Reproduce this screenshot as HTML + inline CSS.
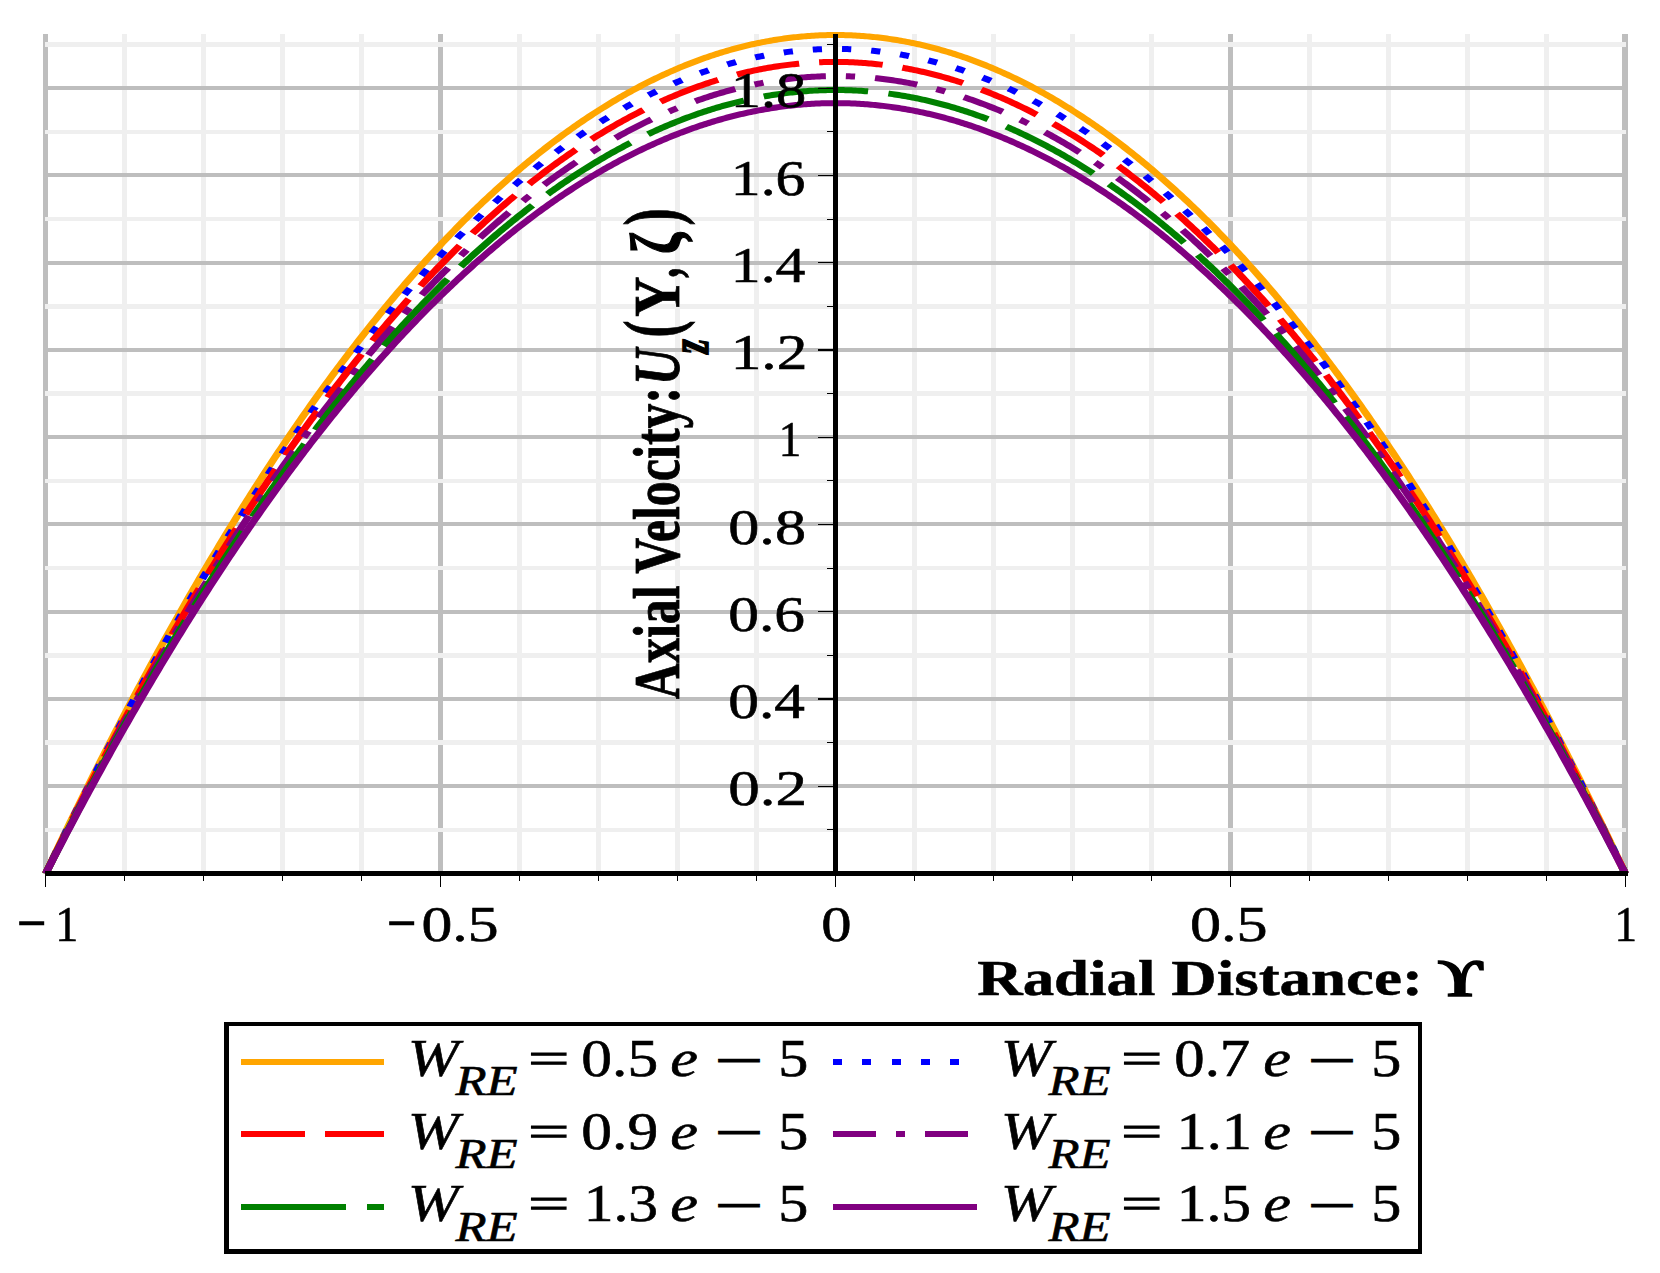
<!DOCTYPE html>
<html><head><meta charset="utf-8"><title>Axial Velocity vs Radial Distance</title>
<style>html,body{margin:0;padding:0;background:#fff;}svg{display:block;}text{font-family:"Liberation Serif","DejaVu Serif",serif;fill:#000;}</style></head><body>
<svg width="1660" height="1273" viewBox="0 0 1660 1273">
<rect width="1660" height="1273" fill="#fff"/>
<g shape-rendering="crispEdges">
<rect x="43.25" y="34" width="5" height="839.50" fill="#bebebe"/>
<rect x="438.12" y="34" width="5" height="839.50" fill="#bebebe"/>
<rect x="1227.88" y="34" width="5" height="839.50" fill="#bebebe"/>
<rect x="1622" y="34" width="6" height="839.50" fill="#bebebe"/>
<rect x="122.48" y="34" width="4.5" height="839.50" fill="#efefef"/>
<rect x="201.45" y="34" width="4.5" height="839.50" fill="#efefef"/>
<rect x="280.43" y="34" width="4.5" height="839.50" fill="#efefef"/>
<rect x="359.40" y="34" width="4.5" height="839.50" fill="#efefef"/>
<rect x="517.35" y="34" width="4.5" height="839.50" fill="#efefef"/>
<rect x="596.33" y="34" width="4.5" height="839.50" fill="#efefef"/>
<rect x="675.30" y="34" width="4.5" height="839.50" fill="#efefef"/>
<rect x="754.27" y="34" width="4.5" height="839.50" fill="#efefef"/>
<rect x="912.23" y="34" width="4.5" height="839.50" fill="#efefef"/>
<rect x="991.20" y="34" width="4.5" height="839.50" fill="#efefef"/>
<rect x="1070.17" y="34" width="4.5" height="839.50" fill="#efefef"/>
<rect x="1149.15" y="34" width="4.5" height="839.50" fill="#efefef"/>
<rect x="1307.10" y="34" width="4.5" height="839.50" fill="#efefef"/>
<rect x="1386.07" y="34" width="4.5" height="839.50" fill="#efefef"/>
<rect x="1465.05" y="34" width="4.5" height="839.50" fill="#efefef"/>
<rect x="1544.03" y="34" width="4.5" height="839.50" fill="#efefef"/>
<rect x="48.25" y="784.24" width="1574.50" height="4" fill="#bebebe"/>
<rect x="48.25" y="696.98" width="1574.50" height="4" fill="#bebebe"/>
<rect x="48.25" y="609.72" width="1574.50" height="4" fill="#bebebe"/>
<rect x="48.25" y="522.46" width="1574.50" height="4" fill="#bebebe"/>
<rect x="48.25" y="435.20" width="1574.50" height="4" fill="#bebebe"/>
<rect x="48.25" y="347.94" width="1574.50" height="4" fill="#bebebe"/>
<rect x="48.25" y="260.68" width="1574.50" height="4" fill="#bebebe"/>
<rect x="48.25" y="173.42" width="1574.50" height="4" fill="#bebebe"/>
<rect x="48.25" y="86.16" width="1574.50" height="4" fill="#bebebe"/>
<rect x="45.25" y="827.62" width="1580.50" height="4.5" fill="#efefef"/>
<rect x="45.25" y="740.36" width="1580.50" height="4.5" fill="#efefef"/>
<rect x="45.25" y="653.10" width="1580.50" height="4.5" fill="#efefef"/>
<rect x="45.25" y="565.84" width="1580.50" height="4.5" fill="#efefef"/>
<rect x="45.25" y="478.58" width="1580.50" height="4.5" fill="#efefef"/>
<rect x="45.25" y="391.32" width="1580.50" height="4.5" fill="#efefef"/>
<rect x="45.25" y="304.06" width="1580.50" height="4.5" fill="#efefef"/>
<rect x="45.25" y="216.80" width="1580.50" height="4.5" fill="#efefef"/>
<rect x="45.25" y="129.54" width="1580.50" height="4.5" fill="#efefef"/>
<rect x="45.25" y="42.28" width="1580.50" height="4.5" fill="#efefef"/>
</g>
<g transform="scale(1.25,1)" fill="none" stroke-width="6" stroke-linejoin="round" stroke-linecap="butt">
<path d="M36.60,873.50 L38.18,869.31 L39.76,865.14 L41.34,860.97 L42.92,856.81 L44.50,852.67 L46.08,848.53 L47.66,844.41 L49.24,840.30 L50.82,836.19 L52.39,832.10 L53.97,828.02 L55.55,823.95 L57.13,819.88 L58.71,815.83 L60.29,811.79 L61.87,807.76 L63.45,803.74 L65.03,799.73 L66.61,795.74 L68.19,791.75 L69.77,787.77 L71.35,783.80 L72.93,779.85 L74.51,775.90 L76.09,771.97 L77.67,768.04 L79.25,764.13 L80.83,760.22 L82.41,756.33 L83.98,752.44 L85.56,748.57 L87.14,744.71 L88.72,740.86 L90.30,737.02 L91.88,733.19 L93.46,729.37 L95.04,725.56 L96.62,721.76 L98.20,717.97 L99.78,714.19 L101.36,710.42 L102.94,706.66 L104.52,702.92 L106.10,699.18 L107.68,695.45 L109.26,691.74 L110.84,688.03 L112.42,684.34 L114.00,680.65 L115.58,676.98 L117.15,673.32 L118.73,669.67 L120.31,666.02 L121.89,662.39 L123.47,658.77 L125.05,655.16 L126.63,651.56 L128.21,647.97 L129.79,644.39 L131.37,640.82 L132.95,637.26 L134.53,633.72 L136.11,630.18 L137.69,626.65 L139.27,623.13 L140.85,619.63 L142.43,616.13 L144.01,612.65 L145.59,609.17 L147.17,605.71 L148.74,602.26 L150.32,598.81 L151.90,595.38 L153.48,591.96 L155.06,588.55 L156.64,585.15 L158.22,581.76 L159.80,578.38 L161.38,575.01 L162.96,571.65 L164.54,568.30 L166.12,564.96 L167.70,561.63 L169.28,558.31 L170.86,555.01 L172.44,551.71 L174.02,548.43 L175.60,545.15 L177.18,541.89 L178.76,538.63 L180.33,535.39 L181.91,532.15 L183.49,528.93 L185.07,525.72 L186.65,522.52 L188.23,519.33 L189.81,516.14 L191.39,512.97 L192.97,509.81 L194.55,506.66 L196.13,503.53 L197.71,500.40 L199.29,497.28 L200.87,494.17 L202.45,491.07 L204.03,487.99 L205.61,484.91 L207.19,481.85 L208.77,478.79 L210.34,475.75 L211.92,472.71 L213.50,469.69 L215.08,466.67 L216.66,463.67 L218.24,460.68 L219.82,457.70 L221.40,454.73 L222.98,451.76 L224.56,448.81 L226.14,445.87 L227.72,442.95 L229.30,440.03 L230.88,437.12 L232.46,434.22 L234.04,431.33 L235.62,428.46 L237.20,425.59 L238.78,422.73 L240.36,419.89 L241.93,417.05 L243.51,414.23 L245.09,411.41 L246.67,408.61 L248.25,405.82 L249.83,403.03 L251.41,400.26 L252.99,397.50 L254.57,394.75 L256.15,392.01 L257.73,389.28 L259.31,386.56 L260.89,383.85 L262.47,381.15 L264.05,378.46 L265.63,375.78 L267.21,373.12 L268.79,370.46 L270.37,367.81 L271.95,365.18 L273.52,362.55 L275.10,359.94 L276.68,357.33 L278.26,354.74 L279.84,352.15 L281.42,349.58 L283.00,347.02 L284.58,344.47 L286.16,341.92 L287.74,339.39 L289.32,336.87 L290.90,334.36 L292.48,331.86 L294.06,329.37 L295.64,326.89 L297.22,324.43 L298.80,321.97 L300.38,319.52 L301.96,317.08 L303.54,314.66 L305.12,312.24 L306.69,309.84 L308.27,307.44 L309.85,305.06 L311.43,302.68 L313.01,300.32 L314.59,297.97 L316.17,295.62 L317.75,293.29 L319.33,290.97 L320.91,288.66 L322.49,286.36 L324.07,284.07 L325.65,281.79 L327.23,279.52 L328.81,277.26 L330.39,275.01 L331.97,272.78 L333.55,270.55 L335.13,268.33 L336.70,266.13 L338.28,263.93 L339.86,261.74 L341.44,259.57 L343.02,257.40 L344.60,255.25 L346.18,253.11 L347.76,250.97 L349.34,248.85 L350.92,246.74 L352.50,244.64 L354.08,242.55 L355.66,240.47 L357.24,238.40 L358.82,236.34 L360.40,234.29 L361.98,232.25 L363.56,230.22 L365.14,228.20 L366.72,226.20 L368.30,224.20 L369.87,222.21 L371.45,220.24 L373.03,218.27 L374.61,216.32 L376.19,214.38 L377.77,212.44 L379.35,210.52 L380.93,208.61 L382.51,206.70 L384.09,204.81 L385.67,202.93 L387.25,201.06 L388.83,199.20 L390.41,197.35 L391.99,195.51 L393.57,193.68 L395.15,191.86 L396.73,190.05 L398.31,188.26 L399.88,186.47 L401.46,184.69 L403.04,182.93 L404.62,181.17 L406.20,179.43 L407.78,177.69 L409.36,175.97 L410.94,174.25 L412.52,172.55 L414.10,170.86 L415.68,169.18 L417.26,167.50 L418.84,165.84 L420.42,164.19 L422.00,162.55 L423.58,160.92 L425.16,159.30 L426.74,157.69 L428.32,156.10 L429.90,154.51 L431.48,152.93 L433.05,151.36 L434.63,149.81 L436.21,148.26 L437.79,146.73 L439.37,145.20 L440.95,143.69 L442.53,142.18 L444.11,140.69 L445.69,139.21 L447.27,137.73 L448.85,136.27 L450.43,134.82 L452.01,133.38 L453.59,131.95 L455.17,130.53 L456.75,129.12 L458.33,127.72 L459.91,126.33 L461.49,124.95 L463.06,123.58 L464.64,122.23 L466.22,120.88 L467.80,119.54 L469.38,118.22 L470.96,116.90 L472.54,115.60 L474.12,114.30 L475.70,113.02 L477.28,111.74 L478.86,110.48 L480.44,109.23 L482.02,107.99 L483.60,106.76 L485.18,105.53 L486.76,104.32 L488.34,103.12 L489.92,101.93 L491.50,100.76 L493.08,99.59 L494.66,98.43 L496.23,97.28 L497.81,96.14 L499.39,95.02 L500.97,93.90 L502.55,92.80 L504.13,91.70 L505.71,90.62 L507.29,89.54 L508.87,88.48 L510.45,87.42 L512.03,86.38 L513.61,85.35 L515.19,84.33 L516.77,83.32 L518.35,82.31 L519.93,81.32 L521.51,80.34 L523.09,79.37 L524.67,78.42 L526.25,77.47 L527.82,76.53 L529.40,75.60 L530.98,74.68 L532.56,73.78 L534.14,72.88 L535.72,72.00 L537.30,71.12 L538.88,70.26 L540.46,69.40 L542.04,68.56 L543.62,67.72 L545.20,66.90 L546.78,66.09 L548.36,65.29 L549.94,64.50 L551.52,63.72 L553.10,62.95 L554.68,62.19 L556.26,61.44 L557.83,60.70 L559.41,59.97 L560.99,59.25 L562.57,58.54 L564.15,57.85 L565.73,57.16 L567.31,56.48 L568.89,55.82 L570.47,55.16 L572.05,54.52 L573.63,53.88 L575.21,53.26 L576.79,52.65 L578.37,52.05 L579.95,51.45 L581.53,50.87 L583.11,50.30 L584.69,49.74 L586.27,49.19 L587.85,48.65 L589.42,48.12 L591.00,47.60 L592.58,47.09 L594.16,46.59 L595.74,46.11 L597.32,45.63 L598.90,45.16 L600.48,44.71 L602.06,44.26 L603.64,43.83 L605.22,43.40 L606.80,42.99 L608.38,42.59 L609.96,42.19 L611.54,41.81 L613.12,41.44 L614.70,41.08 L616.28,40.73 L617.86,40.38 L619.44,40.05 L621.02,39.74 L622.59,39.43 L624.17,39.13 L625.75,38.84 L627.33,38.56 L628.91,38.29 L630.49,38.04 L632.07,37.79 L633.65,37.56 L635.23,37.33 L636.81,37.11 L638.39,36.91 L639.97,36.72 L641.55,36.53 L643.13,36.36 L644.71,36.20 L646.29,36.05 L647.87,35.90 L649.45,35.77 L651.03,35.65 L652.61,35.54 L654.18,35.44 L655.76,35.35 L657.34,35.28 L658.92,35.21 L660.50,35.15 L662.08,35.10 L663.66,35.07 L665.24,35.04 L666.82,35.02 L668.40,35.02 L669.98,35.02 L671.56,35.04 L673.14,35.07 L674.72,35.10 L676.30,35.15 L677.88,35.21 L679.46,35.28 L681.04,35.35 L682.62,35.44 L684.19,35.54 L685.77,35.65 L687.35,35.77 L688.93,35.90 L690.51,36.05 L692.09,36.20 L693.67,36.36 L695.25,36.53 L696.83,36.72 L698.41,36.91 L699.99,37.11 L701.57,37.33 L703.15,37.56 L704.73,37.79 L706.31,38.04 L707.89,38.29 L709.47,38.56 L711.05,38.84 L712.63,39.13 L714.21,39.43 L715.78,39.74 L717.36,40.05 L718.94,40.38 L720.52,40.73 L722.10,41.08 L723.68,41.44 L725.26,41.81 L726.84,42.19 L728.42,42.59 L730.00,42.99 L731.58,43.40 L733.16,43.83 L734.74,44.26 L736.32,44.71 L737.90,45.16 L739.48,45.63 L741.06,46.11 L742.64,46.59 L744.22,47.09 L745.80,47.60 L747.38,48.12 L748.95,48.65 L750.53,49.19 L752.11,49.74 L753.69,50.30 L755.27,50.87 L756.85,51.45 L758.43,52.05 L760.01,52.65 L761.59,53.26 L763.17,53.88 L764.75,54.52 L766.33,55.16 L767.91,55.82 L769.49,56.48 L771.07,57.16 L772.65,57.85 L774.23,58.54 L775.81,59.25 L777.39,59.97 L778.97,60.70 L780.54,61.44 L782.12,62.19 L783.70,62.95 L785.28,63.72 L786.86,64.50 L788.44,65.29 L790.02,66.09 L791.60,66.90 L793.18,67.72 L794.76,68.56 L796.34,69.40 L797.92,70.26 L799.50,71.12 L801.08,72.00 L802.66,72.88 L804.24,73.78 L805.82,74.68 L807.40,75.60 L808.98,76.53 L810.56,77.47 L812.13,78.42 L813.71,79.37 L815.29,80.34 L816.87,81.32 L818.45,82.31 L820.03,83.32 L821.61,84.33 L823.19,85.35 L824.77,86.38 L826.35,87.42 L827.93,88.48 L829.51,89.54 L831.09,90.62 L832.67,91.70 L834.25,92.80 L835.83,93.90 L837.41,95.02 L838.99,96.14 L840.57,97.28 L842.14,98.43 L843.72,99.59 L845.30,100.76 L846.88,101.93 L848.46,103.12 L850.04,104.32 L851.62,105.53 L853.20,106.76 L854.78,107.99 L856.36,109.23 L857.94,110.48 L859.52,111.74 L861.10,113.02 L862.68,114.30 L864.26,115.60 L865.84,116.90 L867.42,118.22 L869.00,119.54 L870.58,120.88 L872.16,122.23 L873.74,123.58 L875.31,124.95 L876.89,126.33 L878.47,127.72 L880.05,129.12 L881.63,130.53 L883.21,131.95 L884.79,133.38 L886.37,134.82 L887.95,136.27 L889.53,137.73 L891.11,139.21 L892.69,140.69 L894.27,142.18 L895.85,143.69 L897.43,145.20 L899.01,146.73 L900.59,148.26 L902.17,149.81 L903.75,151.36 L905.33,152.93 L906.90,154.51 L908.48,156.10 L910.06,157.69 L911.64,159.30 L913.22,160.92 L914.80,162.55 L916.38,164.19 L917.96,165.84 L919.54,167.50 L921.12,169.18 L922.70,170.86 L924.28,172.55 L925.86,174.25 L927.44,175.97 L929.02,177.69 L930.60,179.43 L932.18,181.17 L933.76,182.93 L935.34,184.69 L936.91,186.47 L938.49,188.26 L940.07,190.05 L941.65,191.86 L943.23,193.68 L944.81,195.51 L946.39,197.35 L947.97,199.20 L949.55,201.06 L951.13,202.93 L952.71,204.81 L954.29,206.70 L955.87,208.61 L957.45,210.52 L959.03,212.44 L960.61,214.38 L962.19,216.32 L963.77,218.27 L965.35,220.24 L966.93,222.21 L968.51,224.20 L970.08,226.20 L971.66,228.20 L973.24,230.22 L974.82,232.25 L976.40,234.29 L977.98,236.34 L979.56,238.40 L981.14,240.47 L982.72,242.55 L984.30,244.64 L985.88,246.74 L987.46,248.85 L989.04,250.97 L990.62,253.11 L992.20,255.25 L993.78,257.40 L995.36,259.57 L996.94,261.74 L998.52,263.93 L1000.09,266.13 L1001.67,268.33 L1003.25,270.55 L1004.83,272.78 L1006.41,275.01 L1007.99,277.26 L1009.57,279.52 L1011.15,281.79 L1012.73,284.07 L1014.31,286.36 L1015.89,288.66 L1017.47,290.97 L1019.05,293.29 L1020.63,295.62 L1022.21,297.97 L1023.79,300.32 L1025.37,302.68 L1026.95,305.06 L1028.53,307.44 L1030.11,309.84 L1031.68,312.24 L1033.26,314.66 L1034.84,317.08 L1036.42,319.52 L1038.00,321.97 L1039.58,324.43 L1041.16,326.89 L1042.74,329.37 L1044.32,331.86 L1045.90,334.36 L1047.48,336.87 L1049.06,339.39 L1050.64,341.92 L1052.22,344.47 L1053.80,347.02 L1055.38,349.58 L1056.96,352.15 L1058.54,354.74 L1060.12,357.33 L1061.70,359.94 L1063.28,362.55 L1064.85,365.18 L1066.43,367.81 L1068.01,370.46 L1069.59,373.12 L1071.17,375.78 L1072.75,378.46 L1074.33,381.15 L1075.91,383.85 L1077.49,386.56 L1079.07,389.28 L1080.65,392.01 L1082.23,394.75 L1083.81,397.50 L1085.39,400.26 L1086.97,403.03 L1088.55,405.82 L1090.13,408.61 L1091.71,411.41 L1093.29,414.23 L1094.87,417.05 L1096.44,419.89 L1098.02,422.73 L1099.60,425.59 L1101.18,428.46 L1102.76,431.33 L1104.34,434.22 L1105.92,437.12 L1107.50,440.03 L1109.08,442.95 L1110.66,445.87 L1112.24,448.81 L1113.82,451.76 L1115.40,454.73 L1116.98,457.70 L1118.56,460.68 L1120.14,463.67 L1121.72,466.67 L1123.30,469.69 L1124.88,472.71 L1126.45,475.75 L1128.03,478.79 L1129.61,481.85 L1131.19,484.91 L1132.77,487.99 L1134.35,491.07 L1135.93,494.17 L1137.51,497.28 L1139.09,500.40 L1140.67,503.53 L1142.25,506.66 L1143.83,509.81 L1145.41,512.97 L1146.99,516.14 L1148.57,519.33 L1150.15,522.52 L1151.73,525.72 L1153.31,528.93 L1154.89,532.15 L1156.47,535.39 L1158.05,538.63 L1159.62,541.89 L1161.20,545.15 L1162.78,548.43 L1164.36,551.71 L1165.94,555.01 L1167.52,558.31 L1169.10,561.63 L1170.68,564.96 L1172.26,568.30 L1173.84,571.65 L1175.42,575.01 L1177.00,578.38 L1178.58,581.76 L1180.16,585.15 L1181.74,588.55 L1183.32,591.96 L1184.90,595.38 L1186.48,598.81 L1188.06,602.26 L1189.63,605.71 L1191.21,609.17 L1192.79,612.65 L1194.37,616.13 L1195.95,619.63 L1197.53,623.13 L1199.11,626.65 L1200.69,630.18 L1202.27,633.72 L1203.85,637.26 L1205.43,640.82 L1207.01,644.39 L1208.59,647.97 L1210.17,651.56 L1211.75,655.16 L1213.33,658.77 L1214.91,662.39 L1216.49,666.02 L1218.07,669.67 L1219.65,673.32 L1221.22,676.98 L1222.80,680.65 L1224.38,684.34 L1225.96,688.03 L1227.54,691.74 L1229.12,695.45 L1230.70,699.18 L1232.28,702.92 L1233.86,706.66 L1235.44,710.42 L1237.02,714.19 L1238.60,717.97 L1240.18,721.76 L1241.76,725.56 L1243.34,729.37 L1244.92,733.19 L1246.50,737.02 L1248.08,740.86 L1249.66,744.71 L1251.24,748.57 L1252.82,752.44 L1254.39,756.33 L1255.97,760.22 L1257.55,764.13 L1259.13,768.04 L1260.71,771.97 L1262.29,775.90 L1263.87,779.85 L1265.45,783.80 L1267.03,787.77 L1268.61,791.75 L1270.19,795.74 L1271.77,799.73 L1273.35,803.74 L1274.93,807.76 L1276.51,811.79 L1278.09,815.83 L1279.67,819.88 L1281.25,823.95 L1282.83,828.02 L1284.40,832.10 L1285.98,836.19 L1287.56,840.30 L1289.14,844.41 L1290.72,848.53 L1292.30,852.67 L1293.88,856.81 L1295.46,860.97 L1297.04,865.14 L1298.62,869.31 L1300.20,873.50" stroke="#FFA500"/>
<path d="M36.60,873.50 L38.18,869.38 L39.76,865.27 L41.34,861.18 L42.92,857.09 L44.50,853.01 L46.08,848.95 L47.66,844.89 L49.24,840.85 L50.82,836.81 L52.39,832.79 L53.97,828.77 L55.55,824.77 L57.13,820.77 L58.71,816.79 L60.29,812.82 L61.87,808.85 L63.45,804.90 L65.03,800.96 L66.61,797.03 L68.19,793.11 L69.77,789.19 L71.35,785.29 L72.93,781.40 L74.51,777.52 L76.09,773.65 L77.67,769.79 L79.25,765.94 L80.83,762.10 L82.41,758.27 L83.98,754.45 L85.56,750.65 L87.14,746.85 L88.72,743.06 L90.30,739.28 L91.88,735.51 L93.46,731.76 L95.04,728.01 L96.62,724.27 L98.20,720.55 L99.78,716.83 L101.36,713.13 L102.94,709.43 L104.52,705.75 L106.10,702.07 L107.68,698.41 L109.26,694.76 L110.84,691.11 L112.42,687.48 L114.00,683.86 L115.58,680.24 L117.15,676.64 L118.73,673.05 L120.31,669.47 L121.89,665.90 L123.47,662.33 L125.05,658.78 L126.63,655.24 L128.21,651.71 L129.79,648.19 L131.37,644.68 L132.95,641.18 L134.53,637.70 L136.11,634.22 L137.69,630.75 L139.27,627.29 L140.85,623.84 L142.43,620.41 L144.01,616.98 L145.59,613.56 L147.17,610.16 L148.74,606.76 L150.32,603.37 L151.90,600.00 L153.48,596.63 L155.06,593.28 L156.64,589.93 L158.22,586.60 L159.80,583.27 L161.38,579.96 L162.96,576.66 L164.54,573.36 L166.12,570.08 L167.70,566.81 L169.28,563.55 L170.86,560.29 L172.44,557.05 L174.02,553.82 L175.60,550.60 L177.18,547.39 L178.76,544.19 L180.33,541.00 L181.91,537.82 L183.49,534.65 L185.07,531.49 L186.65,528.34 L188.23,525.20 L189.81,522.08 L191.39,518.96 L192.97,515.85 L194.55,512.75 L196.13,509.67 L197.71,506.59 L199.29,503.52 L200.87,500.47 L202.45,497.42 L204.03,494.39 L205.61,491.36 L207.19,488.35 L208.77,485.34 L210.34,482.35 L211.92,479.36 L213.50,476.39 L215.08,473.43 L216.66,470.47 L218.24,467.53 L219.82,464.60 L221.40,461.68 L222.98,458.77 L224.56,455.86 L226.14,452.97 L227.72,450.09 L229.30,447.22 L230.88,444.36 L232.46,441.51 L234.04,438.67 L235.62,435.84 L237.20,433.02 L238.78,430.21 L240.36,427.42 L241.93,424.63 L243.51,421.85 L245.09,419.08 L246.67,416.33 L248.25,413.58 L249.83,410.84 L251.41,408.12 L252.99,405.40 L254.57,402.69 L256.15,400.00 L257.73,397.31 L259.31,394.64 L260.89,391.98 L262.47,389.32 L264.05,386.68 L265.63,384.04 L267.21,381.42 L268.79,378.81 L270.37,376.21 L271.95,373.61 L273.52,371.03 L275.10,368.46 L276.68,365.90 L278.26,363.35 L279.84,360.81 L281.42,358.28 L283.00,355.76 L284.58,353.25 L286.16,350.75 L287.74,348.26 L289.32,345.78 L290.90,343.31 L292.48,340.85 L294.06,338.40 L295.64,335.97 L297.22,333.54 L298.80,331.12 L300.38,328.72 L301.96,326.32 L303.54,323.93 L305.12,321.56 L306.69,319.19 L308.27,316.84 L309.85,314.49 L311.43,312.16 L313.01,309.83 L314.59,307.52 L316.17,305.22 L317.75,302.92 L319.33,300.64 L320.91,298.37 L322.49,296.10 L324.07,293.85 L325.65,291.61 L327.23,289.38 L328.81,287.16 L330.39,284.95 L331.97,282.75 L333.55,280.56 L335.13,278.38 L336.70,276.21 L338.28,274.05 L339.86,271.90 L341.44,269.76 L343.02,267.63 L344.60,265.51 L346.18,263.41 L347.76,261.31 L349.34,259.22 L350.92,257.14 L352.50,255.08 L354.08,253.02 L355.66,250.98 L357.24,248.94 L358.82,246.91 L360.40,244.90 L361.98,242.89 L363.56,240.90 L365.14,238.92 L366.72,236.94 L368.30,234.98 L369.87,233.03 L371.45,231.08 L373.03,229.15 L374.61,227.23 L376.19,225.32 L377.77,223.41 L379.35,221.52 L380.93,219.64 L382.51,217.77 L384.09,215.91 L385.67,214.06 L387.25,212.22 L388.83,210.39 L390.41,208.57 L391.99,206.76 L393.57,204.96 L395.15,203.18 L396.73,201.40 L398.31,199.63 L399.88,197.87 L401.46,196.13 L403.04,194.39 L404.62,192.66 L406.20,190.95 L407.78,189.24 L409.36,187.55 L410.94,185.86 L412.52,184.19 L414.10,182.52 L415.68,180.87 L417.26,179.22 L418.84,177.59 L420.42,175.97 L422.00,174.35 L423.58,172.75 L425.16,171.16 L426.74,169.58 L428.32,168.00 L429.90,166.44 L431.48,164.89 L433.05,163.35 L434.63,161.82 L436.21,160.30 L437.79,158.79 L439.37,157.29 L440.95,155.80 L442.53,154.32 L444.11,152.85 L445.69,151.39 L447.27,149.95 L448.85,148.51 L450.43,147.08 L452.01,145.66 L453.59,144.26 L455.17,142.86 L456.75,141.47 L458.33,140.10 L459.91,138.73 L461.49,137.38 L463.06,136.03 L464.64,134.70 L466.22,133.37 L467.80,132.06 L469.38,130.75 L470.96,129.46 L472.54,128.18 L474.12,126.90 L475.70,125.64 L477.28,124.39 L478.86,123.15 L480.44,121.92 L482.02,120.69 L483.60,119.48 L485.18,118.28 L486.76,117.09 L488.34,115.91 L489.92,114.74 L491.50,113.58 L493.08,112.43 L494.66,111.29 L496.23,110.17 L497.81,109.05 L499.39,107.94 L500.97,106.84 L502.55,105.75 L504.13,104.68 L505.71,103.61 L507.29,102.55 L508.87,101.51 L510.45,100.47 L512.03,99.45 L513.61,98.43 L515.19,97.43 L516.77,96.43 L518.35,95.45 L519.93,94.47 L521.51,93.51 L523.09,92.56 L524.67,91.61 L526.25,90.68 L527.82,89.76 L529.40,88.85 L530.98,87.94 L532.56,87.05 L534.14,86.17 L535.72,85.30 L537.30,84.44 L538.88,83.59 L540.46,82.75 L542.04,81.92 L543.62,81.10 L545.20,80.29 L546.78,79.49 L548.36,78.70 L549.94,77.93 L551.52,77.16 L553.10,76.40 L554.68,75.65 L556.26,74.92 L557.83,74.19 L559.41,73.47 L560.99,72.77 L562.57,72.07 L564.15,71.39 L565.73,70.71 L567.31,70.05 L568.89,69.39 L570.47,68.75 L572.05,68.11 L573.63,67.49 L575.21,66.88 L576.79,66.27 L578.37,65.68 L579.95,65.10 L581.53,64.53 L583.11,63.96 L584.69,63.41 L586.27,62.87 L587.85,62.34 L589.42,61.82 L591.00,61.31 L592.58,60.81 L594.16,60.32 L595.74,59.84 L597.32,59.37 L598.90,58.91 L600.48,58.47 L602.06,58.03 L603.64,57.60 L605.22,57.18 L606.80,56.78 L608.38,56.38 L609.96,55.99 L611.54,55.62 L613.12,55.25 L614.70,54.89 L616.28,54.55 L617.86,54.21 L619.44,53.89 L621.02,53.57 L622.59,53.27 L624.17,52.98 L625.75,52.69 L627.33,52.42 L628.91,52.16 L630.49,51.91 L632.07,51.66 L633.65,51.43 L635.23,51.21 L636.81,51.00 L638.39,50.80 L639.97,50.61 L641.55,50.43 L643.13,50.26 L644.71,50.10 L646.29,49.95 L647.87,49.81 L649.45,49.68 L651.03,49.56 L652.61,49.45 L654.18,49.35 L655.76,49.27 L657.34,49.19 L658.92,49.12 L660.50,49.07 L662.08,49.02 L663.66,48.98 L665.24,48.96 L666.82,48.94 L668.40,48.94 L669.98,48.94 L671.56,48.96 L673.14,48.98 L674.72,49.02 L676.30,49.07 L677.88,49.12 L679.46,49.19 L681.04,49.27 L682.62,49.35 L684.19,49.45 L685.77,49.56 L687.35,49.68 L688.93,49.81 L690.51,49.95 L692.09,50.10 L693.67,50.26 L695.25,50.43 L696.83,50.61 L698.41,50.80 L699.99,51.00 L701.57,51.21 L703.15,51.43 L704.73,51.66 L706.31,51.91 L707.89,52.16 L709.47,52.42 L711.05,52.69 L712.63,52.98 L714.21,53.27 L715.78,53.57 L717.36,53.89 L718.94,54.21 L720.52,54.55 L722.10,54.89 L723.68,55.25 L725.26,55.62 L726.84,55.99 L728.42,56.38 L730.00,56.78 L731.58,57.18 L733.16,57.60 L734.74,58.03 L736.32,58.47 L737.90,58.91 L739.48,59.37 L741.06,59.84 L742.64,60.32 L744.22,60.81 L745.80,61.31 L747.38,61.82 L748.95,62.34 L750.53,62.87 L752.11,63.41 L753.69,63.96 L755.27,64.53 L756.85,65.10 L758.43,65.68 L760.01,66.27 L761.59,66.88 L763.17,67.49 L764.75,68.11 L766.33,68.75 L767.91,69.39 L769.49,70.05 L771.07,70.71 L772.65,71.39 L774.23,72.07 L775.81,72.77 L777.39,73.47 L778.97,74.19 L780.54,74.92 L782.12,75.65 L783.70,76.40 L785.28,77.16 L786.86,77.93 L788.44,78.70 L790.02,79.49 L791.60,80.29 L793.18,81.10 L794.76,81.92 L796.34,82.75 L797.92,83.59 L799.50,84.44 L801.08,85.30 L802.66,86.17 L804.24,87.05 L805.82,87.94 L807.40,88.85 L808.98,89.76 L810.56,90.68 L812.13,91.61 L813.71,92.56 L815.29,93.51 L816.87,94.47 L818.45,95.45 L820.03,96.43 L821.61,97.43 L823.19,98.43 L824.77,99.45 L826.35,100.47 L827.93,101.51 L829.51,102.55 L831.09,103.61 L832.67,104.68 L834.25,105.75 L835.83,106.84 L837.41,107.94 L838.99,109.05 L840.57,110.17 L842.14,111.29 L843.72,112.43 L845.30,113.58 L846.88,114.74 L848.46,115.91 L850.04,117.09 L851.62,118.28 L853.20,119.48 L854.78,120.69 L856.36,121.92 L857.94,123.15 L859.52,124.39 L861.10,125.64 L862.68,126.90 L864.26,128.18 L865.84,129.46 L867.42,130.75 L869.00,132.06 L870.58,133.37 L872.16,134.70 L873.74,136.03 L875.31,137.38 L876.89,138.73 L878.47,140.10 L880.05,141.47 L881.63,142.86 L883.21,144.26 L884.79,145.66 L886.37,147.08 L887.95,148.51 L889.53,149.95 L891.11,151.39 L892.69,152.85 L894.27,154.32 L895.85,155.80 L897.43,157.29 L899.01,158.79 L900.59,160.30 L902.17,161.82 L903.75,163.35 L905.33,164.89 L906.90,166.44 L908.48,168.00 L910.06,169.58 L911.64,171.16 L913.22,172.75 L914.80,174.35 L916.38,175.97 L917.96,177.59 L919.54,179.22 L921.12,180.87 L922.70,182.52 L924.28,184.19 L925.86,185.86 L927.44,187.55 L929.02,189.24 L930.60,190.95 L932.18,192.66 L933.76,194.39 L935.34,196.13 L936.91,197.87 L938.49,199.63 L940.07,201.40 L941.65,203.18 L943.23,204.96 L944.81,206.76 L946.39,208.57 L947.97,210.39 L949.55,212.22 L951.13,214.06 L952.71,215.91 L954.29,217.77 L955.87,219.64 L957.45,221.52 L959.03,223.41 L960.61,225.32 L962.19,227.23 L963.77,229.15 L965.35,231.08 L966.93,233.03 L968.51,234.98 L970.08,236.94 L971.66,238.92 L973.24,240.90 L974.82,242.89 L976.40,244.90 L977.98,246.91 L979.56,248.94 L981.14,250.98 L982.72,253.02 L984.30,255.08 L985.88,257.14 L987.46,259.22 L989.04,261.31 L990.62,263.41 L992.20,265.51 L993.78,267.63 L995.36,269.76 L996.94,271.90 L998.52,274.05 L1000.09,276.21 L1001.67,278.38 L1003.25,280.56 L1004.83,282.75 L1006.41,284.95 L1007.99,287.16 L1009.57,289.38 L1011.15,291.61 L1012.73,293.85 L1014.31,296.10 L1015.89,298.37 L1017.47,300.64 L1019.05,302.92 L1020.63,305.22 L1022.21,307.52 L1023.79,309.83 L1025.37,312.16 L1026.95,314.49 L1028.53,316.84 L1030.11,319.19 L1031.68,321.56 L1033.26,323.93 L1034.84,326.32 L1036.42,328.72 L1038.00,331.12 L1039.58,333.54 L1041.16,335.97 L1042.74,338.40 L1044.32,340.85 L1045.90,343.31 L1047.48,345.78 L1049.06,348.26 L1050.64,350.75 L1052.22,353.25 L1053.80,355.76 L1055.38,358.28 L1056.96,360.81 L1058.54,363.35 L1060.12,365.90 L1061.70,368.46 L1063.28,371.03 L1064.85,373.61 L1066.43,376.21 L1068.01,378.81 L1069.59,381.42 L1071.17,384.04 L1072.75,386.68 L1074.33,389.32 L1075.91,391.98 L1077.49,394.64 L1079.07,397.31 L1080.65,400.00 L1082.23,402.69 L1083.81,405.40 L1085.39,408.12 L1086.97,410.84 L1088.55,413.58 L1090.13,416.33 L1091.71,419.08 L1093.29,421.85 L1094.87,424.63 L1096.44,427.42 L1098.02,430.21 L1099.60,433.02 L1101.18,435.84 L1102.76,438.67 L1104.34,441.51 L1105.92,444.36 L1107.50,447.22 L1109.08,450.09 L1110.66,452.97 L1112.24,455.86 L1113.82,458.77 L1115.40,461.68 L1116.98,464.60 L1118.56,467.53 L1120.14,470.47 L1121.72,473.43 L1123.30,476.39 L1124.88,479.36 L1126.45,482.35 L1128.03,485.34 L1129.61,488.35 L1131.19,491.36 L1132.77,494.39 L1134.35,497.42 L1135.93,500.47 L1137.51,503.52 L1139.09,506.59 L1140.67,509.67 L1142.25,512.75 L1143.83,515.85 L1145.41,518.96 L1146.99,522.08 L1148.57,525.20 L1150.15,528.34 L1151.73,531.49 L1153.31,534.65 L1154.89,537.82 L1156.47,541.00 L1158.05,544.19 L1159.62,547.39 L1161.20,550.60 L1162.78,553.82 L1164.36,557.05 L1165.94,560.29 L1167.52,563.55 L1169.10,566.81 L1170.68,570.08 L1172.26,573.36 L1173.84,576.66 L1175.42,579.96 L1177.00,583.27 L1178.58,586.60 L1180.16,589.93 L1181.74,593.28 L1183.32,596.63 L1184.90,600.00 L1186.48,603.37 L1188.06,606.76 L1189.63,610.16 L1191.21,613.56 L1192.79,616.98 L1194.37,620.41 L1195.95,623.84 L1197.53,627.29 L1199.11,630.75 L1200.69,634.22 L1202.27,637.70 L1203.85,641.18 L1205.43,644.68 L1207.01,648.19 L1208.59,651.71 L1210.17,655.24 L1211.75,658.78 L1213.33,662.33 L1214.91,665.90 L1216.49,669.47 L1218.07,673.05 L1219.65,676.64 L1221.22,680.24 L1222.80,683.86 L1224.38,687.48 L1225.96,691.11 L1227.54,694.76 L1229.12,698.41 L1230.70,702.07 L1232.28,705.75 L1233.86,709.43 L1235.44,713.13 L1237.02,716.83 L1238.60,720.55 L1240.18,724.27 L1241.76,728.01 L1243.34,731.76 L1244.92,735.51 L1246.50,739.28 L1248.08,743.06 L1249.66,746.85 L1251.24,750.65 L1252.82,754.45 L1254.39,758.27 L1255.97,762.10 L1257.55,765.94 L1259.13,769.79 L1260.71,773.65 L1262.29,777.52 L1263.87,781.40 L1265.45,785.29 L1267.03,789.19 L1268.61,793.11 L1270.19,797.03 L1271.77,800.96 L1273.35,804.90 L1274.93,808.85 L1276.51,812.82 L1278.09,816.79 L1279.67,820.77 L1281.25,824.77 L1282.83,828.77 L1284.40,832.79 L1285.98,836.81 L1287.56,840.85 L1289.14,844.89 L1290.72,848.95 L1292.30,853.01 L1293.88,857.09 L1295.46,861.18 L1297.04,865.27 L1298.62,869.38 L1300.20,873.50" stroke="#0000FF" stroke-dasharray="7.4,16.0" stroke-dashoffset="7.38"/>
<path d="M36.60,873.50 L38.18,869.45 L39.76,865.40 L41.34,861.37 L42.92,857.35 L44.50,853.34 L46.08,849.34 L47.66,845.34 L49.24,841.36 L50.82,837.39 L52.39,833.43 L53.97,829.48 L55.55,825.54 L57.13,821.61 L58.71,817.68 L60.29,813.77 L61.87,809.87 L63.45,805.98 L65.03,802.10 L66.61,798.23 L68.19,794.37 L69.77,790.52 L71.35,786.68 L72.93,782.85 L74.51,779.03 L76.09,775.22 L77.67,771.43 L79.25,767.64 L80.83,763.86 L82.41,760.09 L83.98,756.33 L85.56,752.58 L87.14,748.84 L88.72,745.12 L90.30,741.40 L91.88,737.69 L93.46,733.99 L95.04,730.31 L96.62,726.63 L98.20,722.96 L99.78,719.30 L101.36,715.66 L102.94,712.02 L104.52,708.39 L106.10,704.78 L107.68,701.17 L109.26,697.57 L110.84,693.99 L112.42,690.41 L114.00,686.85 L115.58,683.29 L117.15,679.74 L118.73,676.21 L120.31,672.68 L121.89,669.17 L123.47,665.66 L125.05,662.17 L126.63,658.68 L128.21,655.21 L129.79,651.75 L131.37,648.29 L132.95,644.85 L134.53,641.41 L136.11,637.99 L137.69,634.58 L139.27,631.17 L140.85,627.78 L142.43,624.40 L144.01,621.02 L145.59,617.66 L147.17,614.31 L148.74,610.96 L150.32,607.63 L151.90,604.31 L153.48,601.00 L155.06,597.70 L156.64,594.40 L158.22,591.12 L159.80,587.85 L161.38,584.59 L162.96,581.34 L164.54,578.10 L166.12,574.87 L167.70,571.64 L169.28,568.43 L170.86,565.23 L172.44,562.04 L174.02,558.86 L175.60,555.69 L177.18,552.53 L178.76,549.38 L180.33,546.24 L181.91,543.11 L183.49,539.99 L185.07,536.88 L186.65,533.79 L188.23,530.70 L189.81,527.62 L191.39,524.55 L192.97,521.49 L194.55,518.44 L196.13,515.40 L197.71,512.38 L199.29,509.36 L200.87,506.35 L202.45,503.35 L204.03,500.36 L205.61,497.39 L207.19,494.42 L208.77,491.46 L210.34,488.52 L211.92,485.58 L213.50,482.65 L215.08,479.74 L216.66,476.83 L218.24,473.93 L219.82,471.05 L221.40,468.17 L222.98,465.30 L224.56,462.45 L226.14,459.60 L227.72,456.77 L229.30,453.94 L230.88,451.13 L232.46,448.32 L234.04,445.53 L235.62,442.74 L237.20,439.97 L238.78,437.20 L240.36,434.45 L241.93,431.71 L243.51,428.97 L245.09,426.25 L246.67,423.53 L248.25,420.83 L249.83,418.14 L251.41,415.45 L252.99,412.78 L254.57,410.12 L256.15,407.47 L257.73,404.82 L259.31,402.19 L260.89,399.57 L262.47,396.96 L264.05,394.35 L265.63,391.76 L267.21,389.18 L268.79,386.61 L270.37,384.05 L271.95,381.50 L273.52,378.95 L275.10,376.42 L276.68,373.90 L278.26,371.39 L279.84,368.89 L281.42,366.40 L283.00,363.92 L284.58,361.45 L286.16,358.99 L287.74,356.54 L289.32,354.10 L290.90,351.67 L292.48,349.25 L294.06,346.84 L295.64,344.44 L297.22,342.05 L298.80,339.68 L300.38,337.31 L301.96,334.95 L303.54,332.60 L305.12,330.26 L306.69,327.93 L308.27,325.61 L309.85,323.31 L311.43,321.01 L313.01,318.72 L314.59,316.44 L316.17,314.18 L317.75,311.92 L319.33,309.67 L320.91,307.44 L322.49,305.21 L324.07,302.99 L325.65,300.79 L327.23,298.59 L328.81,296.40 L330.39,294.23 L331.97,292.06 L333.55,289.91 L335.13,287.76 L336.70,285.63 L338.28,283.50 L339.86,281.38 L341.44,279.28 L343.02,277.18 L344.60,275.10 L346.18,273.03 L347.76,270.96 L349.34,268.91 L350.92,266.86 L352.50,264.83 L354.08,262.80 L355.66,260.79 L357.24,258.79 L358.82,256.79 L360.40,254.81 L361.98,252.84 L363.56,250.87 L365.14,248.92 L366.72,246.98 L368.30,245.05 L369.87,243.12 L371.45,241.21 L373.03,239.31 L374.61,237.42 L376.19,235.54 L377.77,233.66 L379.35,231.80 L380.93,229.95 L382.51,228.11 L384.09,226.28 L385.67,224.46 L387.25,222.65 L388.83,220.85 L390.41,219.06 L391.99,217.28 L393.57,215.51 L395.15,213.75 L396.73,212.00 L398.31,210.26 L399.88,208.53 L401.46,206.81 L403.04,205.10 L404.62,203.40 L406.20,201.71 L407.78,200.03 L409.36,198.36 L410.94,196.70 L412.52,195.05 L414.10,193.42 L415.68,191.79 L417.26,190.17 L418.84,188.56 L420.42,186.96 L422.00,185.38 L423.58,183.80 L425.16,182.23 L426.74,180.67 L428.32,179.13 L429.90,177.59 L431.48,176.06 L433.05,174.55 L434.63,173.04 L436.21,171.54 L437.79,170.06 L439.37,168.58 L440.95,167.12 L442.53,165.66 L444.11,164.22 L445.69,162.78 L447.27,161.35 L448.85,159.94 L450.43,158.53 L452.01,157.14 L453.59,155.75 L455.17,154.38 L456.75,153.02 L458.33,151.66 L459.91,150.32 L461.49,148.98 L463.06,147.66 L464.64,146.35 L466.22,145.04 L467.80,143.75 L469.38,142.47 L470.96,141.19 L472.54,139.93 L474.12,138.68 L475.70,137.43 L477.28,136.20 L478.86,134.98 L480.44,133.77 L482.02,132.56 L483.60,131.37 L485.18,130.19 L486.76,129.02 L488.34,127.86 L489.92,126.71 L491.50,125.56 L493.08,124.43 L494.66,123.31 L496.23,122.20 L497.81,121.10 L499.39,120.01 L500.97,118.93 L502.55,117.86 L504.13,116.80 L505.71,115.75 L507.29,114.71 L508.87,113.68 L510.45,112.66 L512.03,111.65 L513.61,110.65 L515.19,109.66 L516.77,108.68 L518.35,107.72 L519.93,106.76 L521.51,105.81 L523.09,104.87 L524.67,103.94 L526.25,103.02 L527.82,102.12 L529.40,101.22 L530.98,100.33 L532.56,99.45 L534.14,98.59 L535.72,97.73 L537.30,96.88 L538.88,96.04 L540.46,95.22 L542.04,94.40 L543.62,93.59 L545.20,92.80 L546.78,92.01 L548.36,91.24 L549.94,90.47 L551.52,89.71 L553.10,88.97 L554.68,88.23 L556.26,87.51 L557.83,86.79 L559.41,86.09 L560.99,85.39 L562.57,84.71 L564.15,84.03 L565.73,83.37 L567.31,82.71 L568.89,82.07 L570.47,81.44 L572.05,80.81 L573.63,80.20 L575.21,79.59 L576.79,79.00 L578.37,78.42 L579.95,77.84 L581.53,77.28 L583.11,76.73 L584.69,76.19 L586.27,75.65 L587.85,75.13 L589.42,74.62 L591.00,74.12 L592.58,73.62 L594.16,73.14 L595.74,72.67 L597.32,72.21 L598.90,71.76 L600.48,71.32 L602.06,70.89 L603.64,70.46 L605.22,70.05 L606.80,69.65 L608.38,69.26 L609.96,68.88 L611.54,68.51 L613.12,68.15 L614.70,67.80 L616.28,67.46 L617.86,67.13 L619.44,66.81 L621.02,66.50 L622.59,66.20 L624.17,65.92 L625.75,65.64 L627.33,65.37 L628.91,65.11 L630.49,64.86 L632.07,64.62 L633.65,64.39 L635.23,64.18 L636.81,63.97 L638.39,63.77 L639.97,63.58 L641.55,63.40 L643.13,63.24 L644.71,63.08 L646.29,62.93 L647.87,62.80 L649.45,62.67 L651.03,62.55 L652.61,62.45 L654.18,62.35 L655.76,62.26 L657.34,62.19 L658.92,62.12 L660.50,62.07 L662.08,62.02 L663.66,61.98 L665.24,61.96 L666.82,61.94 L668.40,61.94 L669.98,61.94 L671.56,61.96 L673.14,61.98 L674.72,62.02 L676.30,62.07 L677.88,62.12 L679.46,62.19 L681.04,62.26 L682.62,62.35 L684.19,62.45 L685.77,62.55 L687.35,62.67 L688.93,62.80 L690.51,62.93 L692.09,63.08 L693.67,63.24 L695.25,63.40 L696.83,63.58 L698.41,63.77 L699.99,63.97 L701.57,64.18 L703.15,64.39 L704.73,64.62 L706.31,64.86 L707.89,65.11 L709.47,65.37 L711.05,65.64 L712.63,65.92 L714.21,66.20 L715.78,66.50 L717.36,66.81 L718.94,67.13 L720.52,67.46 L722.10,67.80 L723.68,68.15 L725.26,68.51 L726.84,68.88 L728.42,69.26 L730.00,69.65 L731.58,70.05 L733.16,70.46 L734.74,70.89 L736.32,71.32 L737.90,71.76 L739.48,72.21 L741.06,72.67 L742.64,73.14 L744.22,73.62 L745.80,74.12 L747.38,74.62 L748.95,75.13 L750.53,75.65 L752.11,76.19 L753.69,76.73 L755.27,77.28 L756.85,77.84 L758.43,78.42 L760.01,79.00 L761.59,79.59 L763.17,80.20 L764.75,80.81 L766.33,81.44 L767.91,82.07 L769.49,82.71 L771.07,83.37 L772.65,84.03 L774.23,84.71 L775.81,85.39 L777.39,86.09 L778.97,86.79 L780.54,87.51 L782.12,88.23 L783.70,88.97 L785.28,89.71 L786.86,90.47 L788.44,91.24 L790.02,92.01 L791.60,92.80 L793.18,93.59 L794.76,94.40 L796.34,95.22 L797.92,96.04 L799.50,96.88 L801.08,97.73 L802.66,98.59 L804.24,99.45 L805.82,100.33 L807.40,101.22 L808.98,102.12 L810.56,103.02 L812.13,103.94 L813.71,104.87 L815.29,105.81 L816.87,106.76 L818.45,107.72 L820.03,108.68 L821.61,109.66 L823.19,110.65 L824.77,111.65 L826.35,112.66 L827.93,113.68 L829.51,114.71 L831.09,115.75 L832.67,116.80 L834.25,117.86 L835.83,118.93 L837.41,120.01 L838.99,121.10 L840.57,122.20 L842.14,123.31 L843.72,124.43 L845.30,125.56 L846.88,126.71 L848.46,127.86 L850.04,129.02 L851.62,130.19 L853.20,131.37 L854.78,132.56 L856.36,133.77 L857.94,134.98 L859.52,136.20 L861.10,137.43 L862.68,138.68 L864.26,139.93 L865.84,141.19 L867.42,142.47 L869.00,143.75 L870.58,145.04 L872.16,146.35 L873.74,147.66 L875.31,148.98 L876.89,150.32 L878.47,151.66 L880.05,153.02 L881.63,154.38 L883.21,155.75 L884.79,157.14 L886.37,158.53 L887.95,159.94 L889.53,161.35 L891.11,162.78 L892.69,164.22 L894.27,165.66 L895.85,167.12 L897.43,168.58 L899.01,170.06 L900.59,171.54 L902.17,173.04 L903.75,174.55 L905.33,176.06 L906.90,177.59 L908.48,179.13 L910.06,180.67 L911.64,182.23 L913.22,183.80 L914.80,185.38 L916.38,186.96 L917.96,188.56 L919.54,190.17 L921.12,191.79 L922.70,193.42 L924.28,195.05 L925.86,196.70 L927.44,198.36 L929.02,200.03 L930.60,201.71 L932.18,203.40 L933.76,205.10 L935.34,206.81 L936.91,208.53 L938.49,210.26 L940.07,212.00 L941.65,213.75 L943.23,215.51 L944.81,217.28 L946.39,219.06 L947.97,220.85 L949.55,222.65 L951.13,224.46 L952.71,226.28 L954.29,228.11 L955.87,229.95 L957.45,231.80 L959.03,233.66 L960.61,235.54 L962.19,237.42 L963.77,239.31 L965.35,241.21 L966.93,243.12 L968.51,245.05 L970.08,246.98 L971.66,248.92 L973.24,250.87 L974.82,252.84 L976.40,254.81 L977.98,256.79 L979.56,258.79 L981.14,260.79 L982.72,262.80 L984.30,264.83 L985.88,266.86 L987.46,268.91 L989.04,270.96 L990.62,273.03 L992.20,275.10 L993.78,277.18 L995.36,279.28 L996.94,281.38 L998.52,283.50 L1000.09,285.63 L1001.67,287.76 L1003.25,289.91 L1004.83,292.06 L1006.41,294.23 L1007.99,296.40 L1009.57,298.59 L1011.15,300.79 L1012.73,302.99 L1014.31,305.21 L1015.89,307.44 L1017.47,309.67 L1019.05,311.92 L1020.63,314.18 L1022.21,316.44 L1023.79,318.72 L1025.37,321.01 L1026.95,323.31 L1028.53,325.61 L1030.11,327.93 L1031.68,330.26 L1033.26,332.60 L1034.84,334.95 L1036.42,337.31 L1038.00,339.68 L1039.58,342.05 L1041.16,344.44 L1042.74,346.84 L1044.32,349.25 L1045.90,351.67 L1047.48,354.10 L1049.06,356.54 L1050.64,358.99 L1052.22,361.45 L1053.80,363.92 L1055.38,366.40 L1056.96,368.89 L1058.54,371.39 L1060.12,373.90 L1061.70,376.42 L1063.28,378.95 L1064.85,381.50 L1066.43,384.05 L1068.01,386.61 L1069.59,389.18 L1071.17,391.76 L1072.75,394.35 L1074.33,396.96 L1075.91,399.57 L1077.49,402.19 L1079.07,404.82 L1080.65,407.47 L1082.23,410.12 L1083.81,412.78 L1085.39,415.45 L1086.97,418.14 L1088.55,420.83 L1090.13,423.53 L1091.71,426.25 L1093.29,428.97 L1094.87,431.71 L1096.44,434.45 L1098.02,437.20 L1099.60,439.97 L1101.18,442.74 L1102.76,445.53 L1104.34,448.32 L1105.92,451.13 L1107.50,453.94 L1109.08,456.77 L1110.66,459.60 L1112.24,462.45 L1113.82,465.30 L1115.40,468.17 L1116.98,471.05 L1118.56,473.93 L1120.14,476.83 L1121.72,479.74 L1123.30,482.65 L1124.88,485.58 L1126.45,488.52 L1128.03,491.46 L1129.61,494.42 L1131.19,497.39 L1132.77,500.36 L1134.35,503.35 L1135.93,506.35 L1137.51,509.36 L1139.09,512.38 L1140.67,515.40 L1142.25,518.44 L1143.83,521.49 L1145.41,524.55 L1146.99,527.62 L1148.57,530.70 L1150.15,533.79 L1151.73,536.88 L1153.31,539.99 L1154.89,543.11 L1156.47,546.24 L1158.05,549.38 L1159.62,552.53 L1161.20,555.69 L1162.78,558.86 L1164.36,562.04 L1165.94,565.23 L1167.52,568.43 L1169.10,571.64 L1170.68,574.87 L1172.26,578.10 L1173.84,581.34 L1175.42,584.59 L1177.00,587.85 L1178.58,591.12 L1180.16,594.40 L1181.74,597.70 L1183.32,601.00 L1184.90,604.31 L1186.48,607.63 L1188.06,610.96 L1189.63,614.31 L1191.21,617.66 L1192.79,621.02 L1194.37,624.40 L1195.95,627.78 L1197.53,631.17 L1199.11,634.58 L1200.69,637.99 L1202.27,641.41 L1203.85,644.85 L1205.43,648.29 L1207.01,651.75 L1208.59,655.21 L1210.17,658.68 L1211.75,662.17 L1213.33,665.66 L1214.91,669.17 L1216.49,672.68 L1218.07,676.21 L1219.65,679.74 L1221.22,683.29 L1222.80,686.85 L1224.38,690.41 L1225.96,693.99 L1227.54,697.57 L1229.12,701.17 L1230.70,704.78 L1232.28,708.39 L1233.86,712.02 L1235.44,715.66 L1237.02,719.30 L1238.60,722.96 L1240.18,726.63 L1241.76,730.31 L1243.34,733.99 L1244.92,737.69 L1246.50,741.40 L1248.08,745.12 L1249.66,748.84 L1251.24,752.58 L1252.82,756.33 L1254.39,760.09 L1255.97,763.86 L1257.55,767.64 L1259.13,771.43 L1260.71,775.22 L1262.29,779.03 L1263.87,782.85 L1265.45,786.68 L1267.03,790.52 L1268.61,794.37 L1270.19,798.23 L1271.77,802.10 L1273.35,805.98 L1274.93,809.87 L1276.51,813.77 L1278.09,817.68 L1279.67,821.61 L1281.25,825.54 L1282.83,829.48 L1284.40,833.43 L1285.98,837.39 L1287.56,841.36 L1289.14,845.34 L1290.72,849.34 L1292.30,853.34 L1293.88,857.35 L1295.46,861.37 L1297.04,865.40 L1298.62,869.45 L1300.20,873.50" stroke="#FF0000" stroke-dasharray="51,16" stroke-dashoffset="8.58"/>
<path d="M36.60,873.50 L38.18,869.52 L39.76,865.55 L41.34,861.58 L42.92,857.63 L44.50,853.69 L46.08,849.76 L47.66,845.84 L49.24,841.92 L50.82,838.02 L52.39,834.13 L53.97,830.25 L55.55,826.37 L57.13,822.51 L58.71,818.66 L60.29,814.82 L61.87,810.99 L63.45,807.16 L65.03,803.35 L66.61,799.55 L68.19,795.76 L69.77,791.97 L71.35,788.20 L72.93,784.44 L74.51,780.68 L76.09,776.94 L77.67,773.21 L79.25,769.49 L80.83,765.77 L82.41,762.07 L83.98,758.38 L85.56,754.70 L87.14,751.02 L88.72,747.36 L90.30,743.71 L91.88,740.06 L93.46,736.43 L95.04,732.81 L96.62,729.19 L98.20,725.59 L99.78,722.00 L101.36,718.41 L102.94,714.84 L104.52,711.28 L106.10,707.72 L107.68,704.18 L109.26,700.65 L110.84,697.12 L112.42,693.61 L114.00,690.11 L115.58,686.61 L117.15,683.13 L118.73,679.66 L120.31,676.19 L121.89,672.74 L123.47,669.30 L125.05,665.86 L126.63,662.44 L128.21,659.02 L129.79,655.62 L131.37,652.23 L132.95,648.84 L134.53,645.47 L136.11,642.10 L137.69,638.75 L139.27,635.41 L140.85,632.07 L142.43,628.75 L144.01,625.43 L145.59,622.13 L147.17,618.84 L148.74,615.55 L150.32,612.28 L151.90,609.01 L153.48,605.76 L155.06,602.51 L156.64,599.28 L158.22,596.06 L159.80,592.84 L161.38,589.64 L162.96,586.44 L164.54,583.26 L166.12,580.08 L167.70,576.92 L169.28,573.76 L170.86,570.62 L172.44,567.48 L174.02,564.36 L175.60,561.25 L177.18,558.14 L178.76,555.05 L180.33,551.96 L181.91,548.89 L183.49,545.82 L185.07,542.77 L186.65,539.72 L188.23,536.69 L189.81,533.66 L191.39,530.65 L192.97,527.64 L194.55,524.65 L196.13,521.66 L197.71,518.68 L199.29,515.72 L200.87,512.76 L202.45,509.82 L204.03,506.88 L205.61,503.96 L207.19,501.04 L208.77,498.14 L210.34,495.24 L211.92,492.36 L213.50,489.48 L215.08,486.62 L216.66,483.76 L218.24,480.91 L219.82,478.08 L221.40,475.25 L222.98,472.44 L224.56,469.63 L226.14,466.84 L227.72,464.05 L229.30,461.27 L230.88,458.51 L232.46,455.75 L234.04,453.01 L235.62,450.27 L237.20,447.54 L238.78,444.83 L240.36,442.12 L241.93,439.43 L243.51,436.74 L245.09,434.06 L246.67,431.40 L248.25,428.74 L249.83,426.09 L251.41,423.46 L252.99,420.83 L254.57,418.21 L256.15,415.61 L257.73,413.01 L259.31,410.43 L260.89,407.85 L262.47,405.28 L264.05,402.73 L265.63,400.18 L267.21,397.64 L268.79,395.12 L270.37,392.60 L271.95,390.09 L273.52,387.60 L275.10,385.11 L276.68,382.63 L278.26,380.16 L279.84,377.71 L281.42,375.26 L283.00,372.82 L284.58,370.40 L286.16,367.98 L287.74,365.57 L289.32,363.18 L290.90,360.79 L292.48,358.41 L294.06,356.04 L295.64,353.69 L297.22,351.34 L298.80,349.00 L300.38,346.67 L301.96,344.36 L303.54,342.05 L305.12,339.75 L306.69,337.47 L308.27,335.19 L309.85,332.92 L311.43,330.66 L313.01,328.41 L314.59,326.18 L316.17,323.95 L317.75,321.73 L319.33,319.52 L320.91,317.33 L322.49,315.14 L324.07,312.96 L325.65,310.79 L327.23,308.63 L328.81,306.49 L330.39,304.35 L331.97,302.22 L333.55,300.10 L335.13,297.99 L336.70,295.90 L338.28,293.81 L339.86,291.73 L341.44,289.66 L343.02,287.60 L344.60,285.56 L346.18,283.52 L347.76,281.49 L349.34,279.47 L350.92,277.46 L352.50,275.46 L354.08,273.48 L355.66,271.50 L357.24,269.53 L358.82,267.57 L360.40,265.62 L361.98,263.68 L363.56,261.75 L365.14,259.83 L366.72,257.93 L368.30,256.03 L369.87,254.14 L371.45,252.26 L373.03,250.39 L374.61,248.53 L376.19,246.68 L377.77,244.84 L379.35,243.02 L380.93,241.20 L382.51,239.39 L384.09,237.59 L385.67,235.80 L387.25,234.02 L388.83,232.25 L390.41,230.49 L391.99,228.74 L393.57,227.00 L395.15,225.27 L396.73,223.55 L398.31,221.84 L399.88,220.15 L401.46,218.46 L403.04,216.78 L404.62,215.11 L406.20,213.45 L407.78,211.80 L409.36,210.16 L410.94,208.53 L412.52,206.91 L414.10,205.30 L415.68,203.70 L417.26,202.11 L418.84,200.53 L420.42,198.96 L422.00,197.40 L423.58,195.85 L425.16,194.31 L426.74,192.78 L428.32,191.26 L429.90,189.75 L431.48,188.25 L433.05,186.76 L434.63,185.28 L436.21,183.81 L437.79,182.35 L439.37,180.90 L440.95,179.46 L442.53,178.03 L444.11,176.61 L445.69,175.20 L447.27,173.80 L448.85,172.41 L450.43,171.03 L452.01,169.66 L453.59,168.30 L455.17,166.94 L456.75,165.60 L458.33,164.27 L459.91,162.95 L461.49,161.64 L463.06,160.34 L464.64,159.05 L466.22,157.77 L467.80,156.50 L469.38,155.24 L470.96,153.99 L472.54,152.75 L474.12,151.52 L475.70,150.29 L477.28,149.08 L478.86,147.88 L480.44,146.69 L482.02,145.51 L483.60,144.34 L485.18,143.18 L486.76,142.03 L488.34,140.89 L489.92,139.75 L491.50,138.63 L493.08,137.52 L494.66,136.42 L496.23,135.33 L497.81,134.25 L499.39,133.18 L500.97,132.11 L502.55,131.06 L504.13,130.02 L505.71,128.99 L507.29,127.97 L508.87,126.96 L510.45,125.95 L512.03,124.96 L513.61,123.98 L515.19,123.01 L516.77,122.05 L518.35,121.10 L519.93,120.15 L521.51,119.22 L523.09,118.30 L524.67,117.39 L526.25,116.49 L527.82,115.59 L529.40,114.71 L530.98,113.84 L532.56,112.98 L534.14,112.12 L535.72,111.28 L537.30,110.45 L538.88,109.63 L540.46,108.82 L542.04,108.01 L543.62,107.22 L545.20,106.44 L546.78,105.67 L548.36,104.90 L549.94,104.15 L551.52,103.41 L553.10,102.68 L554.68,101.95 L556.26,101.24 L557.83,100.54 L559.41,99.85 L560.99,99.16 L562.57,98.49 L564.15,97.83 L565.73,97.17 L567.31,96.53 L568.89,95.90 L570.47,95.28 L572.05,94.66 L573.63,94.06 L575.21,93.47 L576.79,92.88 L578.37,92.31 L579.95,91.75 L581.53,91.19 L583.11,90.65 L584.69,90.12 L586.27,89.59 L587.85,89.08 L589.42,88.58 L591.00,88.08 L592.58,87.60 L594.16,87.13 L595.74,86.66 L597.32,86.21 L598.90,85.77 L600.48,85.33 L602.06,84.91 L603.64,84.50 L605.22,84.09 L606.80,83.70 L608.38,83.31 L609.96,82.94 L611.54,82.58 L613.12,82.22 L614.70,81.88 L616.28,81.55 L617.86,81.22 L619.44,80.91 L621.02,80.60 L622.59,80.31 L624.17,80.03 L625.75,79.75 L627.33,79.49 L628.91,79.23 L630.49,78.99 L632.07,78.75 L633.65,78.53 L635.23,78.32 L636.81,78.11 L638.39,77.92 L639.97,77.73 L641.55,77.56 L643.13,77.39 L644.71,77.24 L646.29,77.09 L647.87,76.96 L649.45,76.84 L651.03,76.72 L652.61,76.62 L654.18,76.52 L655.76,76.44 L657.34,76.36 L658.92,76.30 L660.50,76.24 L662.08,76.20 L663.66,76.16 L665.24,76.14 L666.82,76.12 L668.40,76.12 L669.98,76.12 L671.56,76.14 L673.14,76.16 L674.72,76.20 L676.30,76.24 L677.88,76.30 L679.46,76.36 L681.04,76.44 L682.62,76.52 L684.19,76.62 L685.77,76.72 L687.35,76.84 L688.93,76.96 L690.51,77.09 L692.09,77.24 L693.67,77.39 L695.25,77.56 L696.83,77.73 L698.41,77.92 L699.99,78.11 L701.57,78.32 L703.15,78.53 L704.73,78.75 L706.31,78.99 L707.89,79.23 L709.47,79.49 L711.05,79.75 L712.63,80.03 L714.21,80.31 L715.78,80.60 L717.36,80.91 L718.94,81.22 L720.52,81.55 L722.10,81.88 L723.68,82.22 L725.26,82.58 L726.84,82.94 L728.42,83.31 L730.00,83.70 L731.58,84.09 L733.16,84.50 L734.74,84.91 L736.32,85.33 L737.90,85.77 L739.48,86.21 L741.06,86.66 L742.64,87.13 L744.22,87.60 L745.80,88.08 L747.38,88.58 L748.95,89.08 L750.53,89.59 L752.11,90.12 L753.69,90.65 L755.27,91.19 L756.85,91.75 L758.43,92.31 L760.01,92.88 L761.59,93.47 L763.17,94.06 L764.75,94.66 L766.33,95.28 L767.91,95.90 L769.49,96.53 L771.07,97.17 L772.65,97.83 L774.23,98.49 L775.81,99.16 L777.39,99.85 L778.97,100.54 L780.54,101.24 L782.12,101.95 L783.70,102.68 L785.28,103.41 L786.86,104.15 L788.44,104.90 L790.02,105.67 L791.60,106.44 L793.18,107.22 L794.76,108.01 L796.34,108.82 L797.92,109.63 L799.50,110.45 L801.08,111.28 L802.66,112.12 L804.24,112.98 L805.82,113.84 L807.40,114.71 L808.98,115.59 L810.56,116.49 L812.13,117.39 L813.71,118.30 L815.29,119.22 L816.87,120.15 L818.45,121.10 L820.03,122.05 L821.61,123.01 L823.19,123.98 L824.77,124.96 L826.35,125.95 L827.93,126.96 L829.51,127.97 L831.09,128.99 L832.67,130.02 L834.25,131.06 L835.83,132.11 L837.41,133.18 L838.99,134.25 L840.57,135.33 L842.14,136.42 L843.72,137.52 L845.30,138.63 L846.88,139.75 L848.46,140.89 L850.04,142.03 L851.62,143.18 L853.20,144.34 L854.78,145.51 L856.36,146.69 L857.94,147.88 L859.52,149.08 L861.10,150.29 L862.68,151.52 L864.26,152.75 L865.84,153.99 L867.42,155.24 L869.00,156.50 L870.58,157.77 L872.16,159.05 L873.74,160.34 L875.31,161.64 L876.89,162.95 L878.47,164.27 L880.05,165.60 L881.63,166.94 L883.21,168.30 L884.79,169.66 L886.37,171.03 L887.95,172.41 L889.53,173.80 L891.11,175.20 L892.69,176.61 L894.27,178.03 L895.85,179.46 L897.43,180.90 L899.01,182.35 L900.59,183.81 L902.17,185.28 L903.75,186.76 L905.33,188.25 L906.90,189.75 L908.48,191.26 L910.06,192.78 L911.64,194.31 L913.22,195.85 L914.80,197.40 L916.38,198.96 L917.96,200.53 L919.54,202.11 L921.12,203.70 L922.70,205.30 L924.28,206.91 L925.86,208.53 L927.44,210.16 L929.02,211.80 L930.60,213.45 L932.18,215.11 L933.76,216.78 L935.34,218.46 L936.91,220.15 L938.49,221.84 L940.07,223.55 L941.65,225.27 L943.23,227.00 L944.81,228.74 L946.39,230.49 L947.97,232.25 L949.55,234.02 L951.13,235.80 L952.71,237.59 L954.29,239.39 L955.87,241.20 L957.45,243.02 L959.03,244.84 L960.61,246.68 L962.19,248.53 L963.77,250.39 L965.35,252.26 L966.93,254.14 L968.51,256.03 L970.08,257.93 L971.66,259.83 L973.24,261.75 L974.82,263.68 L976.40,265.62 L977.98,267.57 L979.56,269.53 L981.14,271.50 L982.72,273.48 L984.30,275.46 L985.88,277.46 L987.46,279.47 L989.04,281.49 L990.62,283.52 L992.20,285.56 L993.78,287.60 L995.36,289.66 L996.94,291.73 L998.52,293.81 L1000.09,295.90 L1001.67,297.99 L1003.25,300.10 L1004.83,302.22 L1006.41,304.35 L1007.99,306.49 L1009.57,308.63 L1011.15,310.79 L1012.73,312.96 L1014.31,315.14 L1015.89,317.33 L1017.47,319.52 L1019.05,321.73 L1020.63,323.95 L1022.21,326.18 L1023.79,328.41 L1025.37,330.66 L1026.95,332.92 L1028.53,335.19 L1030.11,337.47 L1031.68,339.75 L1033.26,342.05 L1034.84,344.36 L1036.42,346.67 L1038.00,349.00 L1039.58,351.34 L1041.16,353.69 L1042.74,356.04 L1044.32,358.41 L1045.90,360.79 L1047.48,363.18 L1049.06,365.57 L1050.64,367.98 L1052.22,370.40 L1053.80,372.82 L1055.38,375.26 L1056.96,377.71 L1058.54,380.16 L1060.12,382.63 L1061.70,385.11 L1063.28,387.60 L1064.85,390.09 L1066.43,392.60 L1068.01,395.12 L1069.59,397.64 L1071.17,400.18 L1072.75,402.73 L1074.33,405.28 L1075.91,407.85 L1077.49,410.43 L1079.07,413.01 L1080.65,415.61 L1082.23,418.21 L1083.81,420.83 L1085.39,423.46 L1086.97,426.09 L1088.55,428.74 L1090.13,431.40 L1091.71,434.06 L1093.29,436.74 L1094.87,439.43 L1096.44,442.12 L1098.02,444.83 L1099.60,447.54 L1101.18,450.27 L1102.76,453.01 L1104.34,455.75 L1105.92,458.51 L1107.50,461.27 L1109.08,464.05 L1110.66,466.84 L1112.24,469.63 L1113.82,472.44 L1115.40,475.25 L1116.98,478.08 L1118.56,480.91 L1120.14,483.76 L1121.72,486.62 L1123.30,489.48 L1124.88,492.36 L1126.45,495.24 L1128.03,498.14 L1129.61,501.04 L1131.19,503.96 L1132.77,506.88 L1134.35,509.82 L1135.93,512.76 L1137.51,515.72 L1139.09,518.68 L1140.67,521.66 L1142.25,524.65 L1143.83,527.64 L1145.41,530.65 L1146.99,533.66 L1148.57,536.69 L1150.15,539.72 L1151.73,542.77 L1153.31,545.82 L1154.89,548.89 L1156.47,551.96 L1158.05,555.05 L1159.62,558.14 L1161.20,561.25 L1162.78,564.36 L1164.36,567.48 L1165.94,570.62 L1167.52,573.76 L1169.10,576.92 L1170.68,580.08 L1172.26,583.26 L1173.84,586.44 L1175.42,589.64 L1177.00,592.84 L1178.58,596.06 L1180.16,599.28 L1181.74,602.51 L1183.32,605.76 L1184.90,609.01 L1186.48,612.28 L1188.06,615.55 L1189.63,618.84 L1191.21,622.13 L1192.79,625.43 L1194.37,628.75 L1195.95,632.07 L1197.53,635.41 L1199.11,638.75 L1200.69,642.10 L1202.27,645.47 L1203.85,648.84 L1205.43,652.23 L1207.01,655.62 L1208.59,659.02 L1210.17,662.44 L1211.75,665.86 L1213.33,669.30 L1214.91,672.74 L1216.49,676.19 L1218.07,679.66 L1219.65,683.13 L1221.22,686.61 L1222.80,690.11 L1224.38,693.61 L1225.96,697.12 L1227.54,700.65 L1229.12,704.18 L1230.70,707.72 L1232.28,711.28 L1233.86,714.84 L1235.44,718.41 L1237.02,722.00 L1238.60,725.59 L1240.18,729.19 L1241.76,732.81 L1243.34,736.43 L1244.92,740.06 L1246.50,743.71 L1248.08,747.36 L1249.66,751.02 L1251.24,754.70 L1252.82,758.38 L1254.39,762.07 L1255.97,765.77 L1257.55,769.49 L1259.13,773.21 L1260.71,776.94 L1262.29,780.68 L1263.87,784.44 L1265.45,788.20 L1267.03,791.97 L1268.61,795.76 L1270.19,799.55 L1271.77,803.35 L1273.35,807.16 L1274.93,810.99 L1276.51,814.82 L1278.09,818.66 L1279.67,822.51 L1281.25,826.37 L1282.83,830.25 L1284.40,834.13 L1285.98,838.02 L1287.56,841.92 L1289.14,845.84 L1290.72,849.76 L1292.30,853.69 L1293.88,857.63 L1295.46,861.58 L1297.04,865.55 L1298.62,869.52 L1300.20,873.50" stroke="#800080" stroke-dasharray="34.4,16,7.4,16" stroke-dashoffset="10.37"/>
<path d="M36.60,873.50 L38.18,869.59 L39.76,865.68 L41.34,861.79 L42.92,857.91 L44.50,854.04 L46.08,850.17 L47.66,846.32 L49.24,842.47 L50.82,838.64 L52.39,834.82 L53.97,831.00 L55.55,827.20 L57.13,823.40 L58.71,819.62 L60.29,815.84 L61.87,812.08 L63.45,808.32 L65.03,804.57 L66.61,800.84 L68.19,797.11 L69.77,793.40 L71.35,789.69 L72.93,785.99 L74.51,782.30 L76.09,778.63 L77.67,774.96 L79.25,771.30 L80.83,767.65 L82.41,764.02 L83.98,760.39 L85.56,756.77 L87.14,753.16 L88.72,749.56 L90.30,745.97 L91.88,742.39 L93.46,738.82 L95.04,735.26 L96.62,731.71 L98.20,728.17 L99.78,724.64 L101.36,721.12 L102.94,717.61 L104.52,714.11 L106.10,710.62 L107.68,707.14 L109.26,703.66 L110.84,700.20 L112.42,696.75 L114.00,693.31 L115.58,689.88 L117.15,686.45 L118.73,683.04 L120.31,679.64 L121.89,676.24 L123.47,672.86 L125.05,669.49 L126.63,666.12 L128.21,662.77 L129.79,659.42 L131.37,656.09 L132.95,652.76 L134.53,649.45 L136.11,646.14 L137.69,642.85 L139.27,639.56 L140.85,636.29 L142.43,633.02 L144.01,629.76 L145.59,626.52 L147.17,623.28 L148.74,620.05 L150.32,616.84 L151.90,613.63 L153.48,610.43 L155.06,607.24 L156.64,604.07 L158.22,600.90 L159.80,597.74 L161.38,594.59 L162.96,591.45 L164.54,588.32 L166.12,585.20 L167.70,582.10 L169.28,579.00 L170.86,575.91 L172.44,572.83 L174.02,569.76 L175.60,566.70 L177.18,563.64 L178.76,560.60 L180.33,557.57 L181.91,554.55 L183.49,551.54 L185.07,548.54 L186.65,545.55 L188.23,542.56 L189.81,539.59 L191.39,536.63 L192.97,533.68 L194.55,530.73 L196.13,527.80 L197.71,524.88 L199.29,521.96 L200.87,519.06 L202.45,516.17 L204.03,513.28 L205.61,510.41 L207.19,507.54 L208.77,504.69 L210.34,501.84 L211.92,499.01 L213.50,496.18 L215.08,493.37 L216.66,490.56 L218.24,487.77 L219.82,484.98 L221.40,482.20 L222.98,479.44 L224.56,476.68 L226.14,473.93 L227.72,471.20 L229.30,468.47 L230.88,465.75 L232.46,463.04 L234.04,460.35 L235.62,457.66 L237.20,454.98 L238.78,452.31 L240.36,449.65 L241.93,447.00 L243.51,444.36 L245.09,441.73 L246.67,439.11 L248.25,436.50 L249.83,433.90 L251.41,431.31 L252.99,428.73 L254.57,426.16 L256.15,423.60 L257.73,421.05 L259.31,418.51 L260.89,415.98 L262.47,413.45 L264.05,410.94 L265.63,408.44 L267.21,405.95 L268.79,403.47 L270.37,400.99 L271.95,398.53 L273.52,396.08 L275.10,393.63 L276.68,391.20 L278.26,388.78 L279.84,386.36 L281.42,383.96 L283.00,381.56 L284.58,379.18 L286.16,376.80 L287.74,374.44 L289.32,372.08 L290.90,369.74 L292.48,367.40 L294.06,365.08 L295.64,362.76 L297.22,360.45 L298.80,358.16 L300.38,355.87 L301.96,353.59 L303.54,351.33 L305.12,349.07 L306.69,346.82 L308.27,344.58 L309.85,342.36 L311.43,340.14 L313.01,337.93 L314.59,335.73 L316.17,333.54 L317.75,331.36 L319.33,329.19 L320.91,327.03 L322.49,324.88 L324.07,322.74 L325.65,320.61 L327.23,318.49 L328.81,316.38 L330.39,314.28 L331.97,312.19 L333.55,310.11 L335.13,308.04 L336.70,305.98 L338.28,303.93 L339.86,301.88 L341.44,299.85 L343.02,297.83 L344.60,295.82 L346.18,293.82 L347.76,291.82 L349.34,289.84 L350.92,287.87 L352.50,285.90 L354.08,283.95 L355.66,282.00 L357.24,280.07 L358.82,278.15 L360.40,276.23 L361.98,274.33 L363.56,272.43 L365.14,270.55 L366.72,268.67 L368.30,266.81 L369.87,264.95 L371.45,263.10 L373.03,261.27 L374.61,259.44 L376.19,257.62 L377.77,255.82 L379.35,254.02 L380.93,252.23 L382.51,250.46 L384.09,248.69 L385.67,246.93 L387.25,245.18 L388.83,243.44 L390.41,241.71 L391.99,240.00 L393.57,238.29 L395.15,236.59 L396.73,234.90 L398.31,233.22 L399.88,231.55 L401.46,229.89 L403.04,228.24 L404.62,226.60 L406.20,224.97 L407.78,223.35 L409.36,221.74 L410.94,220.14 L412.52,218.54 L414.10,216.96 L415.68,215.39 L417.26,213.83 L418.84,212.28 L420.42,210.73 L422.00,209.20 L423.58,207.68 L425.16,206.17 L426.74,204.66 L428.32,203.17 L429.90,201.68 L431.48,200.21 L433.05,198.75 L434.63,197.29 L436.21,195.85 L437.79,194.41 L439.37,192.99 L440.95,191.57 L442.53,190.17 L444.11,188.77 L445.69,187.39 L447.27,186.01 L448.85,184.64 L450.43,183.29 L452.01,181.94 L453.59,180.60 L455.17,179.28 L456.75,177.96 L458.33,176.65 L459.91,175.36 L461.49,174.07 L463.06,172.79 L464.64,171.52 L466.22,170.26 L467.80,169.01 L469.38,167.78 L470.96,166.55 L472.54,165.33 L474.12,164.12 L475.70,162.92 L477.28,161.73 L478.86,160.55 L480.44,159.38 L482.02,158.22 L483.60,157.07 L485.18,155.93 L486.76,154.79 L488.34,153.67 L489.92,152.56 L491.50,151.46 L493.08,150.37 L494.66,149.29 L496.23,148.21 L497.81,147.15 L499.39,146.10 L500.97,145.05 L502.55,144.02 L504.13,143.00 L505.71,141.98 L507.29,140.98 L508.87,139.99 L510.45,139.00 L512.03,138.03 L513.61,137.06 L515.19,136.11 L516.77,135.16 L518.35,134.23 L519.93,133.30 L521.51,132.39 L523.09,131.48 L524.67,130.59 L526.25,129.70 L527.82,128.82 L529.40,127.96 L530.98,127.10 L532.56,126.25 L534.14,125.41 L535.72,124.59 L537.30,123.77 L538.88,122.96 L540.46,122.16 L542.04,121.37 L543.62,120.60 L545.20,119.83 L546.78,119.07 L548.36,118.32 L549.94,117.58 L551.52,116.85 L553.10,116.13 L554.68,115.42 L556.26,114.72 L557.83,114.03 L559.41,113.35 L560.99,112.68 L562.57,112.02 L564.15,111.37 L565.73,110.72 L567.31,110.09 L568.89,109.47 L570.47,108.86 L572.05,108.26 L573.63,107.66 L575.21,107.08 L576.79,106.51 L578.37,105.95 L579.95,105.39 L581.53,104.85 L583.11,104.31 L584.69,103.79 L586.27,103.28 L587.85,102.77 L589.42,102.28 L591.00,101.79 L592.58,101.32 L594.16,100.85 L595.74,100.40 L597.32,99.95 L598.90,99.52 L600.48,99.09 L602.06,98.67 L603.64,98.27 L605.22,97.87 L606.80,97.48 L608.38,97.11 L609.96,96.74 L611.54,96.38 L613.12,96.03 L614.70,95.70 L616.28,95.37 L617.86,95.05 L619.44,94.74 L621.02,94.44 L622.59,94.15 L624.17,93.88 L625.75,93.61 L627.33,93.35 L628.91,93.10 L630.49,92.86 L632.07,92.63 L633.65,92.41 L635.23,92.20 L636.81,91.99 L638.39,91.80 L639.97,91.62 L641.55,91.45 L643.13,91.29 L644.71,91.14 L646.29,91.00 L647.87,90.86 L649.45,90.74 L651.03,90.63 L652.61,90.53 L654.18,90.43 L655.76,90.35 L657.34,90.28 L658.92,90.21 L660.50,90.16 L662.08,90.11 L663.66,90.08 L665.24,90.06 L666.82,90.04 L668.40,90.04 L669.98,90.04 L671.56,90.06 L673.14,90.08 L674.72,90.11 L676.30,90.16 L677.88,90.21 L679.46,90.28 L681.04,90.35 L682.62,90.43 L684.19,90.53 L685.77,90.63 L687.35,90.74 L688.93,90.86 L690.51,91.00 L692.09,91.14 L693.67,91.29 L695.25,91.45 L696.83,91.62 L698.41,91.80 L699.99,91.99 L701.57,92.20 L703.15,92.41 L704.73,92.63 L706.31,92.86 L707.89,93.10 L709.47,93.35 L711.05,93.61 L712.63,93.88 L714.21,94.15 L715.78,94.44 L717.36,94.74 L718.94,95.05 L720.52,95.37 L722.10,95.70 L723.68,96.03 L725.26,96.38 L726.84,96.74 L728.42,97.11 L730.00,97.48 L731.58,97.87 L733.16,98.27 L734.74,98.67 L736.32,99.09 L737.90,99.52 L739.48,99.95 L741.06,100.40 L742.64,100.85 L744.22,101.32 L745.80,101.79 L747.38,102.28 L748.95,102.77 L750.53,103.28 L752.11,103.79 L753.69,104.31 L755.27,104.85 L756.85,105.39 L758.43,105.95 L760.01,106.51 L761.59,107.08 L763.17,107.66 L764.75,108.26 L766.33,108.86 L767.91,109.47 L769.49,110.09 L771.07,110.72 L772.65,111.37 L774.23,112.02 L775.81,112.68 L777.39,113.35 L778.97,114.03 L780.54,114.72 L782.12,115.42 L783.70,116.13 L785.28,116.85 L786.86,117.58 L788.44,118.32 L790.02,119.07 L791.60,119.83 L793.18,120.60 L794.76,121.37 L796.34,122.16 L797.92,122.96 L799.50,123.77 L801.08,124.59 L802.66,125.41 L804.24,126.25 L805.82,127.10 L807.40,127.96 L808.98,128.82 L810.56,129.70 L812.13,130.59 L813.71,131.48 L815.29,132.39 L816.87,133.30 L818.45,134.23 L820.03,135.16 L821.61,136.11 L823.19,137.06 L824.77,138.03 L826.35,139.00 L827.93,139.99 L829.51,140.98 L831.09,141.98 L832.67,143.00 L834.25,144.02 L835.83,145.05 L837.41,146.10 L838.99,147.15 L840.57,148.21 L842.14,149.29 L843.72,150.37 L845.30,151.46 L846.88,152.56 L848.46,153.67 L850.04,154.79 L851.62,155.93 L853.20,157.07 L854.78,158.22 L856.36,159.38 L857.94,160.55 L859.52,161.73 L861.10,162.92 L862.68,164.12 L864.26,165.33 L865.84,166.55 L867.42,167.78 L869.00,169.01 L870.58,170.26 L872.16,171.52 L873.74,172.79 L875.31,174.07 L876.89,175.36 L878.47,176.65 L880.05,177.96 L881.63,179.28 L883.21,180.60 L884.79,181.94 L886.37,183.29 L887.95,184.64 L889.53,186.01 L891.11,187.39 L892.69,188.77 L894.27,190.17 L895.85,191.57 L897.43,192.99 L899.01,194.41 L900.59,195.85 L902.17,197.29 L903.75,198.75 L905.33,200.21 L906.90,201.68 L908.48,203.17 L910.06,204.66 L911.64,206.17 L913.22,207.68 L914.80,209.20 L916.38,210.73 L917.96,212.28 L919.54,213.83 L921.12,215.39 L922.70,216.96 L924.28,218.54 L925.86,220.14 L927.44,221.74 L929.02,223.35 L930.60,224.97 L932.18,226.60 L933.76,228.24 L935.34,229.89 L936.91,231.55 L938.49,233.22 L940.07,234.90 L941.65,236.59 L943.23,238.29 L944.81,240.00 L946.39,241.71 L947.97,243.44 L949.55,245.18 L951.13,246.93 L952.71,248.69 L954.29,250.46 L955.87,252.23 L957.45,254.02 L959.03,255.82 L960.61,257.62 L962.19,259.44 L963.77,261.27 L965.35,263.10 L966.93,264.95 L968.51,266.81 L970.08,268.67 L971.66,270.55 L973.24,272.43 L974.82,274.33 L976.40,276.23 L977.98,278.15 L979.56,280.07 L981.14,282.00 L982.72,283.95 L984.30,285.90 L985.88,287.87 L987.46,289.84 L989.04,291.82 L990.62,293.82 L992.20,295.82 L993.78,297.83 L995.36,299.85 L996.94,301.88 L998.52,303.93 L1000.09,305.98 L1001.67,308.04 L1003.25,310.11 L1004.83,312.19 L1006.41,314.28 L1007.99,316.38 L1009.57,318.49 L1011.15,320.61 L1012.73,322.74 L1014.31,324.88 L1015.89,327.03 L1017.47,329.19 L1019.05,331.36 L1020.63,333.54 L1022.21,335.73 L1023.79,337.93 L1025.37,340.14 L1026.95,342.36 L1028.53,344.58 L1030.11,346.82 L1031.68,349.07 L1033.26,351.33 L1034.84,353.59 L1036.42,355.87 L1038.00,358.16 L1039.58,360.45 L1041.16,362.76 L1042.74,365.08 L1044.32,367.40 L1045.90,369.74 L1047.48,372.08 L1049.06,374.44 L1050.64,376.80 L1052.22,379.18 L1053.80,381.56 L1055.38,383.96 L1056.96,386.36 L1058.54,388.78 L1060.12,391.20 L1061.70,393.63 L1063.28,396.08 L1064.85,398.53 L1066.43,400.99 L1068.01,403.47 L1069.59,405.95 L1071.17,408.44 L1072.75,410.94 L1074.33,413.45 L1075.91,415.98 L1077.49,418.51 L1079.07,421.05 L1080.65,423.60 L1082.23,426.16 L1083.81,428.73 L1085.39,431.31 L1086.97,433.90 L1088.55,436.50 L1090.13,439.11 L1091.71,441.73 L1093.29,444.36 L1094.87,447.00 L1096.44,449.65 L1098.02,452.31 L1099.60,454.98 L1101.18,457.66 L1102.76,460.35 L1104.34,463.04 L1105.92,465.75 L1107.50,468.47 L1109.08,471.20 L1110.66,473.93 L1112.24,476.68 L1113.82,479.44 L1115.40,482.20 L1116.98,484.98 L1118.56,487.77 L1120.14,490.56 L1121.72,493.37 L1123.30,496.18 L1124.88,499.01 L1126.45,501.84 L1128.03,504.69 L1129.61,507.54 L1131.19,510.41 L1132.77,513.28 L1134.35,516.17 L1135.93,519.06 L1137.51,521.96 L1139.09,524.88 L1140.67,527.80 L1142.25,530.73 L1143.83,533.68 L1145.41,536.63 L1146.99,539.59 L1148.57,542.56 L1150.15,545.55 L1151.73,548.54 L1153.31,551.54 L1154.89,554.55 L1156.47,557.57 L1158.05,560.60 L1159.62,563.64 L1161.20,566.70 L1162.78,569.76 L1164.36,572.83 L1165.94,575.91 L1167.52,579.00 L1169.10,582.10 L1170.68,585.20 L1172.26,588.32 L1173.84,591.45 L1175.42,594.59 L1177.00,597.74 L1178.58,600.90 L1180.16,604.07 L1181.74,607.24 L1183.32,610.43 L1184.90,613.63 L1186.48,616.84 L1188.06,620.05 L1189.63,623.28 L1191.21,626.52 L1192.79,629.76 L1194.37,633.02 L1195.95,636.29 L1197.53,639.56 L1199.11,642.85 L1200.69,646.14 L1202.27,649.45 L1203.85,652.76 L1205.43,656.09 L1207.01,659.42 L1208.59,662.77 L1210.17,666.12 L1211.75,669.49 L1213.33,672.86 L1214.91,676.24 L1216.49,679.64 L1218.07,683.04 L1219.65,686.45 L1221.22,689.88 L1222.80,693.31 L1224.38,696.75 L1225.96,700.20 L1227.54,703.66 L1229.12,707.14 L1230.70,710.62 L1232.28,714.11 L1233.86,717.61 L1235.44,721.12 L1237.02,724.64 L1238.60,728.17 L1240.18,731.71 L1241.76,735.26 L1243.34,738.82 L1244.92,742.39 L1246.50,745.97 L1248.08,749.56 L1249.66,753.16 L1251.24,756.77 L1252.82,760.39 L1254.39,764.02 L1255.97,767.65 L1257.55,771.30 L1259.13,774.96 L1260.71,778.63 L1262.29,782.30 L1263.87,785.99 L1265.45,789.69 L1267.03,793.40 L1268.61,797.11 L1270.19,800.84 L1271.77,804.57 L1273.35,808.32 L1274.93,812.08 L1276.51,815.84 L1278.09,819.62 L1279.67,823.40 L1281.25,827.20 L1282.83,831.00 L1284.40,834.82 L1285.98,838.64 L1287.56,842.47 L1289.14,846.32 L1290.72,850.17 L1292.30,854.04 L1293.88,857.91 L1295.46,861.79 L1297.04,865.68 L1298.62,869.59 L1300.20,873.50" stroke="#008000" stroke-dasharray="84,16.4" stroke-dashoffset="8.26"/>
<path d="M36.60,873.50 L38.18,869.65 L39.76,865.82 L41.34,861.99 L42.92,858.17 L44.50,854.36 L46.08,850.56 L47.66,846.77 L49.24,842.99 L50.82,839.22 L52.39,835.46 L53.97,831.71 L55.55,827.97 L57.13,824.24 L58.71,820.52 L60.29,816.81 L61.87,813.10 L63.45,809.41 L65.03,805.73 L66.61,802.05 L68.19,798.39 L69.77,794.73 L71.35,791.09 L72.93,787.45 L74.51,783.83 L76.09,780.21 L77.67,776.61 L79.25,773.01 L80.83,769.42 L82.41,765.84 L83.98,762.28 L85.56,758.72 L87.14,755.17 L88.72,751.63 L90.30,748.10 L91.88,744.58 L93.46,741.07 L95.04,737.57 L96.62,734.08 L98.20,730.60 L99.78,727.13 L101.36,723.67 L102.94,720.21 L104.52,716.77 L106.10,713.34 L107.68,709.92 L109.26,706.50 L110.84,703.10 L112.42,699.70 L114.00,696.32 L115.58,692.94 L117.15,689.58 L118.73,686.22 L120.31,682.88 L121.89,679.54 L123.47,676.21 L125.05,672.89 L126.63,669.59 L128.21,666.29 L129.79,663.00 L131.37,659.72 L132.95,656.45 L134.53,653.19 L136.11,649.94 L137.69,646.70 L139.27,643.47 L140.85,640.25 L142.43,637.04 L144.01,633.84 L145.59,630.64 L147.17,627.46 L148.74,624.29 L150.32,621.13 L151.90,617.97 L153.48,614.83 L155.06,611.69 L156.64,608.57 L158.22,605.45 L159.80,602.35 L161.38,599.25 L162.96,596.17 L164.54,593.09 L166.12,590.02 L167.70,586.96 L169.28,583.92 L170.86,580.88 L172.44,577.85 L174.02,574.83 L175.60,571.82 L177.18,568.82 L178.76,565.83 L180.33,562.85 L181.91,559.88 L183.49,556.92 L185.07,553.97 L186.65,551.03 L188.23,548.09 L189.81,545.17 L191.39,542.26 L192.97,539.35 L194.55,536.46 L196.13,533.58 L197.71,530.70 L199.29,527.84 L200.87,524.98 L202.45,522.14 L204.03,519.30 L205.61,516.47 L207.19,513.66 L208.77,510.85 L210.34,508.05 L211.92,505.27 L213.50,502.49 L215.08,499.72 L216.66,496.96 L218.24,494.21 L219.82,491.47 L221.40,488.74 L222.98,486.02 L224.56,483.31 L226.14,480.61 L227.72,477.92 L229.30,475.24 L230.88,472.56 L232.46,469.90 L234.04,467.25 L235.62,464.60 L237.20,461.97 L238.78,459.35 L240.36,456.73 L241.93,454.13 L243.51,451.53 L245.09,448.95 L246.67,446.37 L248.25,443.80 L249.83,441.25 L251.41,438.70 L252.99,436.16 L254.57,433.64 L256.15,431.12 L257.73,428.61 L259.31,426.11 L260.89,423.62 L262.47,421.14 L264.05,418.67 L265.63,416.21 L267.21,413.76 L268.79,411.32 L270.37,408.89 L271.95,406.47 L273.52,404.05 L275.10,401.65 L276.68,399.26 L278.26,396.87 L279.84,394.50 L281.42,392.14 L283.00,389.78 L284.58,387.44 L286.16,385.10 L287.74,382.78 L289.32,380.46 L290.90,378.15 L292.48,375.86 L294.06,373.57 L295.64,371.29 L297.22,369.02 L298.80,366.77 L300.38,364.52 L301.96,362.28 L303.54,360.05 L305.12,357.83 L306.69,355.62 L308.27,353.42 L309.85,351.23 L311.43,349.05 L313.01,346.88 L314.59,344.71 L316.17,342.56 L317.75,340.42 L319.33,338.29 L320.91,336.16 L322.49,334.05 L324.07,331.95 L325.65,329.85 L327.23,327.77 L328.81,325.69 L330.39,323.63 L331.97,321.57 L333.55,319.52 L335.13,317.49 L336.70,315.46 L338.28,313.44 L339.86,311.43 L341.44,309.44 L343.02,307.45 L344.60,305.47 L346.18,303.50 L347.76,301.54 L349.34,299.59 L350.92,297.65 L352.50,295.72 L354.08,293.80 L355.66,291.89 L357.24,289.98 L358.82,288.09 L360.40,286.21 L361.98,284.34 L363.56,282.47 L365.14,280.62 L366.72,278.78 L368.30,276.94 L369.87,275.12 L371.45,273.30 L373.03,271.50 L374.61,269.70 L376.19,267.91 L377.77,266.14 L379.35,264.37 L380.93,262.61 L382.51,260.86 L384.09,259.13 L385.67,257.40 L387.25,255.68 L388.83,253.97 L390.41,252.27 L391.99,250.58 L393.57,248.90 L395.15,247.23 L396.73,245.57 L398.31,243.92 L399.88,242.27 L401.46,240.64 L403.04,239.02 L404.62,237.41 L406.20,235.80 L407.78,234.21 L409.36,232.63 L410.94,231.05 L412.52,229.49 L414.10,227.93 L415.68,226.39 L417.26,224.85 L418.84,223.32 L420.42,221.81 L422.00,220.30 L423.58,218.80 L425.16,217.31 L426.74,215.84 L428.32,214.37 L429.90,212.91 L431.48,211.46 L433.05,210.02 L434.63,208.59 L436.21,207.17 L437.79,205.76 L439.37,204.36 L440.95,202.97 L442.53,201.58 L444.11,200.21 L445.69,198.85 L447.27,197.50 L448.85,196.15 L450.43,194.82 L452.01,193.49 L453.59,192.18 L455.17,190.88 L456.75,189.58 L458.33,188.29 L459.91,187.02 L461.49,185.75 L463.06,184.50 L464.64,183.25 L466.22,182.01 L467.80,180.78 L469.38,179.57 L470.96,178.36 L472.54,177.16 L474.12,175.97 L475.70,174.79 L477.28,173.62 L478.86,172.46 L480.44,171.31 L482.02,170.17 L483.60,169.04 L485.18,167.91 L486.76,166.80 L488.34,165.70 L489.92,164.61 L491.50,163.52 L493.08,162.45 L494.66,161.38 L496.23,160.33 L497.81,159.29 L499.39,158.25 L500.97,157.22 L502.55,156.21 L504.13,155.20 L505.71,154.21 L507.29,153.22 L508.87,152.24 L510.45,151.27 L512.03,150.32 L513.61,149.37 L515.19,148.43 L516.77,147.50 L518.35,146.58 L519.93,145.67 L521.51,144.77 L523.09,143.88 L524.67,143.00 L526.25,142.13 L527.82,141.26 L529.40,140.41 L530.98,139.57 L532.56,138.74 L534.14,137.91 L535.72,137.10 L537.30,136.29 L538.88,135.50 L540.46,134.72 L542.04,133.94 L543.62,133.17 L545.20,132.42 L546.78,131.67 L548.36,130.94 L549.94,130.21 L551.52,129.49 L553.10,128.78 L554.68,128.09 L556.26,127.40 L557.83,126.72 L559.41,126.05 L560.99,125.39 L562.57,124.74 L564.15,124.10 L565.73,123.47 L567.31,122.85 L568.89,122.24 L570.47,121.63 L572.05,121.04 L573.63,120.46 L575.21,119.89 L576.79,119.32 L578.37,118.77 L579.95,118.22 L581.53,117.69 L583.11,117.17 L584.69,116.65 L586.27,116.14 L587.85,115.65 L589.42,115.16 L591.00,114.69 L592.58,114.22 L594.16,113.76 L595.74,113.31 L597.32,112.88 L598.90,112.45 L600.48,112.03 L602.06,111.62 L603.64,111.22 L605.22,110.83 L606.80,110.45 L608.38,110.08 L609.96,109.72 L611.54,109.37 L613.12,109.02 L614.70,108.69 L616.28,108.37 L617.86,108.06 L619.44,107.75 L621.02,107.46 L622.59,107.17 L624.17,106.90 L625.75,106.64 L627.33,106.38 L628.91,106.13 L630.49,105.90 L632.07,105.67 L633.65,105.46 L635.23,105.25 L636.81,105.05 L638.39,104.86 L639.97,104.69 L641.55,104.52 L643.13,104.36 L644.71,104.21 L646.29,104.07 L647.87,103.94 L649.45,103.82 L651.03,103.71 L652.61,103.61 L654.18,103.52 L655.76,103.43 L657.34,103.36 L658.92,103.30 L660.50,103.25 L662.08,103.20 L663.66,103.17 L665.24,103.14 L666.82,103.13 L668.40,103.13 L669.98,103.13 L671.56,103.14 L673.14,103.17 L674.72,103.20 L676.30,103.25 L677.88,103.30 L679.46,103.36 L681.04,103.43 L682.62,103.52 L684.19,103.61 L685.77,103.71 L687.35,103.82 L688.93,103.94 L690.51,104.07 L692.09,104.21 L693.67,104.36 L695.25,104.52 L696.83,104.69 L698.41,104.86 L699.99,105.05 L701.57,105.25 L703.15,105.46 L704.73,105.67 L706.31,105.90 L707.89,106.13 L709.47,106.38 L711.05,106.64 L712.63,106.90 L714.21,107.17 L715.78,107.46 L717.36,107.75 L718.94,108.06 L720.52,108.37 L722.10,108.69 L723.68,109.02 L725.26,109.37 L726.84,109.72 L728.42,110.08 L730.00,110.45 L731.58,110.83 L733.16,111.22 L734.74,111.62 L736.32,112.03 L737.90,112.45 L739.48,112.88 L741.06,113.31 L742.64,113.76 L744.22,114.22 L745.80,114.69 L747.38,115.16 L748.95,115.65 L750.53,116.14 L752.11,116.65 L753.69,117.17 L755.27,117.69 L756.85,118.22 L758.43,118.77 L760.01,119.32 L761.59,119.89 L763.17,120.46 L764.75,121.04 L766.33,121.63 L767.91,122.24 L769.49,122.85 L771.07,123.47 L772.65,124.10 L774.23,124.74 L775.81,125.39 L777.39,126.05 L778.97,126.72 L780.54,127.40 L782.12,128.09 L783.70,128.78 L785.28,129.49 L786.86,130.21 L788.44,130.94 L790.02,131.67 L791.60,132.42 L793.18,133.17 L794.76,133.94 L796.34,134.72 L797.92,135.50 L799.50,136.29 L801.08,137.10 L802.66,137.91 L804.24,138.74 L805.82,139.57 L807.40,140.41 L808.98,141.26 L810.56,142.13 L812.13,143.00 L813.71,143.88 L815.29,144.77 L816.87,145.67 L818.45,146.58 L820.03,147.50 L821.61,148.43 L823.19,149.37 L824.77,150.32 L826.35,151.27 L827.93,152.24 L829.51,153.22 L831.09,154.21 L832.67,155.20 L834.25,156.21 L835.83,157.22 L837.41,158.25 L838.99,159.29 L840.57,160.33 L842.14,161.38 L843.72,162.45 L845.30,163.52 L846.88,164.61 L848.46,165.70 L850.04,166.80 L851.62,167.91 L853.20,169.04 L854.78,170.17 L856.36,171.31 L857.94,172.46 L859.52,173.62 L861.10,174.79 L862.68,175.97 L864.26,177.16 L865.84,178.36 L867.42,179.57 L869.00,180.78 L870.58,182.01 L872.16,183.25 L873.74,184.50 L875.31,185.75 L876.89,187.02 L878.47,188.29 L880.05,189.58 L881.63,190.88 L883.21,192.18 L884.79,193.49 L886.37,194.82 L887.95,196.15 L889.53,197.50 L891.11,198.85 L892.69,200.21 L894.27,201.58 L895.85,202.97 L897.43,204.36 L899.01,205.76 L900.59,207.17 L902.17,208.59 L903.75,210.02 L905.33,211.46 L906.90,212.91 L908.48,214.37 L910.06,215.84 L911.64,217.31 L913.22,218.80 L914.80,220.30 L916.38,221.81 L917.96,223.32 L919.54,224.85 L921.12,226.39 L922.70,227.93 L924.28,229.49 L925.86,231.05 L927.44,232.63 L929.02,234.21 L930.60,235.80 L932.18,237.41 L933.76,239.02 L935.34,240.64 L936.91,242.27 L938.49,243.92 L940.07,245.57 L941.65,247.23 L943.23,248.90 L944.81,250.58 L946.39,252.27 L947.97,253.97 L949.55,255.68 L951.13,257.40 L952.71,259.13 L954.29,260.86 L955.87,262.61 L957.45,264.37 L959.03,266.14 L960.61,267.91 L962.19,269.70 L963.77,271.50 L965.35,273.30 L966.93,275.12 L968.51,276.94 L970.08,278.78 L971.66,280.62 L973.24,282.47 L974.82,284.34 L976.40,286.21 L977.98,288.09 L979.56,289.98 L981.14,291.89 L982.72,293.80 L984.30,295.72 L985.88,297.65 L987.46,299.59 L989.04,301.54 L990.62,303.50 L992.20,305.47 L993.78,307.45 L995.36,309.44 L996.94,311.43 L998.52,313.44 L1000.09,315.46 L1001.67,317.49 L1003.25,319.52 L1004.83,321.57 L1006.41,323.63 L1007.99,325.69 L1009.57,327.77 L1011.15,329.85 L1012.73,331.95 L1014.31,334.05 L1015.89,336.16 L1017.47,338.29 L1019.05,340.42 L1020.63,342.56 L1022.21,344.71 L1023.79,346.88 L1025.37,349.05 L1026.95,351.23 L1028.53,353.42 L1030.11,355.62 L1031.68,357.83 L1033.26,360.05 L1034.84,362.28 L1036.42,364.52 L1038.00,366.77 L1039.58,369.02 L1041.16,371.29 L1042.74,373.57 L1044.32,375.86 L1045.90,378.15 L1047.48,380.46 L1049.06,382.78 L1050.64,385.10 L1052.22,387.44 L1053.80,389.78 L1055.38,392.14 L1056.96,394.50 L1058.54,396.87 L1060.12,399.26 L1061.70,401.65 L1063.28,404.05 L1064.85,406.47 L1066.43,408.89 L1068.01,411.32 L1069.59,413.76 L1071.17,416.21 L1072.75,418.67 L1074.33,421.14 L1075.91,423.62 L1077.49,426.11 L1079.07,428.61 L1080.65,431.12 L1082.23,433.64 L1083.81,436.16 L1085.39,438.70 L1086.97,441.25 L1088.55,443.80 L1090.13,446.37 L1091.71,448.95 L1093.29,451.53 L1094.87,454.13 L1096.44,456.73 L1098.02,459.35 L1099.60,461.97 L1101.18,464.60 L1102.76,467.25 L1104.34,469.90 L1105.92,472.56 L1107.50,475.24 L1109.08,477.92 L1110.66,480.61 L1112.24,483.31 L1113.82,486.02 L1115.40,488.74 L1116.98,491.47 L1118.56,494.21 L1120.14,496.96 L1121.72,499.72 L1123.30,502.49 L1124.88,505.27 L1126.45,508.05 L1128.03,510.85 L1129.61,513.66 L1131.19,516.47 L1132.77,519.30 L1134.35,522.14 L1135.93,524.98 L1137.51,527.84 L1139.09,530.70 L1140.67,533.58 L1142.25,536.46 L1143.83,539.35 L1145.41,542.26 L1146.99,545.17 L1148.57,548.09 L1150.15,551.03 L1151.73,553.97 L1153.31,556.92 L1154.89,559.88 L1156.47,562.85 L1158.05,565.83 L1159.62,568.82 L1161.20,571.82 L1162.78,574.83 L1164.36,577.85 L1165.94,580.88 L1167.52,583.92 L1169.10,586.96 L1170.68,590.02 L1172.26,593.09 L1173.84,596.17 L1175.42,599.25 L1177.00,602.35 L1178.58,605.45 L1180.16,608.57 L1181.74,611.69 L1183.32,614.83 L1184.90,617.97 L1186.48,621.13 L1188.06,624.29 L1189.63,627.46 L1191.21,630.64 L1192.79,633.84 L1194.37,637.04 L1195.95,640.25 L1197.53,643.47 L1199.11,646.70 L1200.69,649.94 L1202.27,653.19 L1203.85,656.45 L1205.43,659.72 L1207.01,663.00 L1208.59,666.29 L1210.17,669.59 L1211.75,672.89 L1213.33,676.21 L1214.91,679.54 L1216.49,682.88 L1218.07,686.22 L1219.65,689.58 L1221.22,692.94 L1222.80,696.32 L1224.38,699.70 L1225.96,703.10 L1227.54,706.50 L1229.12,709.92 L1230.70,713.34 L1232.28,716.77 L1233.86,720.21 L1235.44,723.67 L1237.02,727.13 L1238.60,730.60 L1240.18,734.08 L1241.76,737.57 L1243.34,741.07 L1244.92,744.58 L1246.50,748.10 L1248.08,751.63 L1249.66,755.17 L1251.24,758.72 L1252.82,762.28 L1254.39,765.84 L1255.97,769.42 L1257.55,773.01 L1259.13,776.61 L1260.71,780.21 L1262.29,783.83 L1263.87,787.45 L1265.45,791.09 L1267.03,794.73 L1268.61,798.39 L1270.19,802.05 L1271.77,805.73 L1273.35,809.41 L1274.93,813.10 L1276.51,816.81 L1278.09,820.52 L1279.67,824.24 L1281.25,827.97 L1282.83,831.71 L1284.40,835.46 L1285.98,839.22 L1287.56,842.99 L1289.14,846.77 L1290.72,850.56 L1292.30,854.36 L1293.88,858.17 L1295.46,861.99 L1297.04,865.82 L1298.62,869.65 L1300.20,873.50" stroke="#800080"/>
</g>
<g shape-rendering="crispEdges" fill="#000">
<rect x="44.5" y="871.0" width="1583.0" height="5"/>
<rect x="833.0" y="34" width="5" height="839.5"/>
<rect x="45.25" y="876.0" width="1.1" height="11"/>
<rect x="124.23" y="876.0" width="1.1" height="4.7"/>
<rect x="203.20" y="876.0" width="1.1" height="4.7"/>
<rect x="282.18" y="876.0" width="1.1" height="4.7"/>
<rect x="361.15" y="876.0" width="1.1" height="4.7"/>
<rect x="440.12" y="876.0" width="1.1" height="11"/>
<rect x="519.10" y="876.0" width="1.1" height="4.7"/>
<rect x="598.08" y="876.0" width="1.1" height="4.7"/>
<rect x="677.05" y="876.0" width="1.1" height="4.7"/>
<rect x="756.02" y="876.0" width="1.1" height="4.7"/>
<rect x="835.00" y="876.0" width="1.1" height="11"/>
<rect x="913.98" y="876.0" width="1.1" height="4.7"/>
<rect x="992.95" y="876.0" width="1.1" height="4.7"/>
<rect x="1071.92" y="876.0" width="1.1" height="4.7"/>
<rect x="1150.90" y="876.0" width="1.1" height="4.7"/>
<rect x="1229.88" y="876.0" width="1.1" height="11"/>
<rect x="1308.85" y="876.0" width="1.1" height="4.7"/>
<rect x="1387.82" y="876.0" width="1.1" height="4.7"/>
<rect x="1466.80" y="876.0" width="1.1" height="4.7"/>
<rect x="1545.78" y="876.0" width="1.1" height="4.7"/>
<rect x="1624.75" y="876.0" width="1.1" height="11"/>
<rect x="827.00" y="829.37" width="6" height="1.1"/>
<rect x="818.00" y="785.74" width="15" height="1.1"/>
<rect x="827.00" y="742.11" width="6" height="1.1"/>
<rect x="818.00" y="698.48" width="15" height="1.1"/>
<rect x="827.00" y="654.85" width="6" height="1.1"/>
<rect x="818.00" y="611.22" width="15" height="1.1"/>
<rect x="827.00" y="567.59" width="6" height="1.1"/>
<rect x="818.00" y="523.96" width="15" height="1.1"/>
<rect x="827.00" y="480.33" width="6" height="1.1"/>
<rect x="818.00" y="436.70" width="15" height="1.1"/>
<rect x="827.00" y="393.07" width="6" height="1.1"/>
<rect x="818.00" y="349.44" width="15" height="1.1"/>
<rect x="827.00" y="305.81" width="6" height="1.1"/>
<rect x="818.00" y="262.18" width="15" height="1.1"/>
<rect x="827.00" y="218.55" width="6" height="1.1"/>
<rect x="818.00" y="174.92" width="15" height="1.1"/>
<rect x="827.00" y="131.29" width="6" height="1.1"/>
<rect x="818.00" y="87.66" width="15" height="1.1"/>
<rect x="827.00" y="44.03" width="6" height="1.1"/>
</g>
<text transform="translate(17.61,940.20) scale(0.9958,1)" font-size="51.2" stroke="#000" stroke-width="1.3">−</text>
<text transform="translate(55.20,940.50) scale(0.9010,1)" font-size="51.2" stroke="#000" stroke-width="0.6">1</text>
<text transform="translate(387.61,940.20) scale(0.9958,1)" font-size="51.2" stroke="#000" stroke-width="1.3">−</text>
<text transform="translate(421.47,940.50) scale(1.2039,1)" font-size="51.2" stroke="#000" stroke-width="0.6">0.5</text>
<text transform="translate(821.31,940.50) scale(1.1830,1)" font-size="51.2" stroke="#000" stroke-width="0.6">0</text>
<text transform="translate(1189.96,940.50) scale(1.2138,1)" font-size="51.2" stroke="#000" stroke-width="0.6">0.5</text>
<text transform="translate(1614.58,940.50) scale(0.8802,1)" font-size="51.2" stroke="#000" stroke-width="0.6">1</text>
<text transform="translate(730.77,107.36) scale(1.1815,1)" font-size="51.2" stroke="#000" stroke-width="0.6">1.8</text>
<text transform="translate(730.84,194.62) scale(1.1655,1)" font-size="51.2" stroke="#000" stroke-width="0.6">1.6</text>
<text transform="translate(730.84,281.88) scale(1.1655,1)" font-size="51.2" stroke="#000" stroke-width="0.6">1.4</text>
<text transform="translate(730.71,369.14) scale(1.1979,1)" font-size="51.2" stroke="#000" stroke-width="0.6">1.2</text>
<text transform="translate(778.68,456.40) scale(0.8802,1)" font-size="51.2" stroke="#000" stroke-width="0.6">1</text>
<text transform="translate(728.26,543.66) scale(1.2155,1)" font-size="51.2" stroke="#000" stroke-width="0.6">0.8</text>
<text transform="translate(728.28,630.92) scale(1.1997,1)" font-size="51.2" stroke="#000" stroke-width="0.6">0.6</text>
<text transform="translate(728.28,718.18) scale(1.1997,1)" font-size="51.2" stroke="#000" stroke-width="0.6">0.4</text>
<text transform="translate(728.23,805.44) scale(1.2317,1)" font-size="51.2" stroke="#000" stroke-width="0.6">0.2</text>
<text transform="translate(977.22,995.30) scale(1.2338,1)" font-size="51" font-weight="bold" stroke="#000" stroke-width="0.5">Radial Distance:</text>
<text transform="translate(1438.10,995.60) scale(1.1967,1)" font-size="52" font-weight="bold" stroke="#000" stroke-width="1.6">ϒ</text>
<text transform="translate(407.87,1075.70) scale(1.1771,1)" font-size="52" font-style="italic" stroke="#000" stroke-width="0.6">W</text>
<text transform="translate(455.50,1094.90) scale(1.2264,1)" font-size="41.5" font-style="italic" stroke="#000" stroke-width="0.6">RE</text>
<text transform="translate(528.05,1072.80) scale(1.4154,0.835)" font-size="52" stroke="#000" stroke-width="1.0">=</text>
<text transform="translate(581.28,1075.70) scale(1.1822,1)" font-size="52" stroke="#000" stroke-width="0.6">0.5</text>
<text transform="translate(670.32,1075.70) scale(1.2024,1)" font-size="52" font-style="italic" stroke="#000" stroke-width="0.6">e</text>
<text transform="translate(718.73,1072.50) scale(0.7795,1)" font-size="52" stroke="#000" stroke-width="1.1">—</text>
<text transform="translate(778.28,1075.70) scale(1.1578,1)" font-size="52" stroke="#000" stroke-width="0.6">5</text>
<text transform="translate(1000.87,1075.70) scale(1.1771,1)" font-size="52" font-style="italic" stroke="#000" stroke-width="0.6">W</text>
<text transform="translate(1048.50,1094.90) scale(1.2264,1)" font-size="41.5" font-style="italic" stroke="#000" stroke-width="0.6">RE</text>
<text transform="translate(1121.05,1072.80) scale(1.4154,0.835)" font-size="52" stroke="#000" stroke-width="1.0">=</text>
<text transform="translate(1174.30,1075.70) scale(1.1668,1)" font-size="52" stroke="#000" stroke-width="0.6">0.7</text>
<text transform="translate(1263.32,1075.70) scale(1.2024,1)" font-size="52" font-style="italic" stroke="#000" stroke-width="0.6">e</text>
<text transform="translate(1311.73,1072.50) scale(0.7795,1)" font-size="52" stroke="#000" stroke-width="1.1">—</text>
<text transform="translate(1371.28,1075.70) scale(1.1578,1)" font-size="52" stroke="#000" stroke-width="0.6">5</text>
<text transform="translate(407.87,1148.50) scale(1.1771,1)" font-size="52" font-style="italic" stroke="#000" stroke-width="0.6">W</text>
<text transform="translate(455.50,1167.70) scale(1.2264,1)" font-size="41.5" font-style="italic" stroke="#000" stroke-width="0.6">RE</text>
<text transform="translate(528.05,1145.60) scale(1.4154,0.835)" font-size="52" stroke="#000" stroke-width="1.0">=</text>
<text transform="translate(581.28,1148.50) scale(1.1822,1)" font-size="52" stroke="#000" stroke-width="0.6">0.9</text>
<text transform="translate(670.32,1148.50) scale(1.2024,1)" font-size="52" font-style="italic" stroke="#000" stroke-width="0.6">e</text>
<text transform="translate(718.73,1145.30) scale(0.7795,1)" font-size="52" stroke="#000" stroke-width="1.1">—</text>
<text transform="translate(778.28,1148.50) scale(1.1578,1)" font-size="52" stroke="#000" stroke-width="0.6">5</text>
<text transform="translate(1000.87,1148.50) scale(1.1771,1)" font-size="52" font-style="italic" stroke="#000" stroke-width="0.6">W</text>
<text transform="translate(1048.50,1167.70) scale(1.2264,1)" font-size="41.5" font-style="italic" stroke="#000" stroke-width="0.6">RE</text>
<text transform="translate(1121.05,1145.60) scale(1.4154,0.835)" font-size="52" stroke="#000" stroke-width="1.0">=</text>
<text transform="translate(1176.58,1148.50) scale(1.1607,1)" font-size="52" stroke="#000" stroke-width="0.6">1.1</text>
<text transform="translate(1263.32,1148.50) scale(1.2024,1)" font-size="52" font-style="italic" stroke="#000" stroke-width="0.6">e</text>
<text transform="translate(1311.73,1145.30) scale(0.7795,1)" font-size="52" stroke="#000" stroke-width="1.1">—</text>
<text transform="translate(1371.28,1148.50) scale(1.1578,1)" font-size="52" stroke="#000" stroke-width="0.6">5</text>
<text transform="translate(407.87,1221.30) scale(1.1771,1)" font-size="52" font-style="italic" stroke="#000" stroke-width="0.6">W</text>
<text transform="translate(455.50,1240.50) scale(1.2264,1)" font-size="41.5" font-style="italic" stroke="#000" stroke-width="0.6">RE</text>
<text transform="translate(528.05,1218.40) scale(1.4154,0.835)" font-size="52" stroke="#000" stroke-width="1.0">=</text>
<text transform="translate(583.65,1221.30) scale(1.1448,1)" font-size="52" stroke="#000" stroke-width="0.6">1.3</text>
<text transform="translate(670.32,1221.30) scale(1.2024,1)" font-size="52" font-style="italic" stroke="#000" stroke-width="0.6">e</text>
<text transform="translate(718.73,1218.10) scale(0.7795,1)" font-size="52" stroke="#000" stroke-width="1.1">—</text>
<text transform="translate(778.28,1221.30) scale(1.1578,1)" font-size="52" stroke="#000" stroke-width="0.6">5</text>
<text transform="translate(1000.87,1221.30) scale(1.1771,1)" font-size="52" font-style="italic" stroke="#000" stroke-width="0.6">W</text>
<text transform="translate(1048.50,1240.50) scale(1.2264,1)" font-size="41.5" font-style="italic" stroke="#000" stroke-width="0.6">RE</text>
<text transform="translate(1121.05,1218.40) scale(1.4154,0.835)" font-size="52" stroke="#000" stroke-width="1.0">=</text>
<text transform="translate(1176.65,1221.30) scale(1.1448,1)" font-size="52" stroke="#000" stroke-width="0.6">1.5</text>
<text transform="translate(1263.32,1221.30) scale(1.2024,1)" font-size="52" font-style="italic" stroke="#000" stroke-width="0.6">e</text>
<text transform="translate(1311.73,1218.10) scale(0.7795,1)" font-size="52" stroke="#000" stroke-width="1.1">—</text>
<text transform="translate(1371.28,1221.30) scale(1.1578,1)" font-size="52" stroke="#000" stroke-width="0.6">5</text>
<text transform="translate(679.20,699.20) rotate(-90) scale(0.9999,1.3000)" font-size="50" font-weight="bold" stroke="#000" stroke-width="0.6">Axial Velocity:</text>
<text transform="translate(679.20,384.92) rotate(-90) scale(1.0036,1.3000)" font-size="50" font-style="italic" font-weight="bold" stroke="#000" stroke-width="0.6">U</text>
<text transform="translate(707.60,353.46) rotate(-90) scale(0.8691,1.3000)" font-size="42" font-style="italic" font-weight="bold" stroke="#000" stroke-width="1.3">z</text>
<text transform="translate(677.92,337.60) rotate(-90) scale(1.0240,1.5620)" font-size="50" font-weight="bold" stroke="#000" stroke-width="0.6">(</text>
<text transform="translate(679.20,317.07) rotate(-90) scale(1.1200,1.3000)" font-size="50" font-weight="bold" stroke="#000" stroke-width="0.6">Υ</text>
<text transform="translate(679.20,277.70) rotate(-90) scale(0.8046,1.3000)" font-size="50" font-weight="bold" stroke="#000" stroke-width="0.6">,</text>
<text transform="translate(679.20,254.01) rotate(-90) scale(1.0289,1.4000)" font-size="50" font-weight="bold" stroke="#000" stroke-width="1.0">ζ</text>
<text transform="translate(677.92,225.42) rotate(-90) scale(1.0391,1.5620)" font-size="50" font-weight="bold" stroke="#000" stroke-width="0.6">)</text>
<rect x="226.4" y="1024.2" width="1193.6" height="227.2" fill="none" stroke="#000" stroke-width="4.6" shape-rendering="crispEdges"/>
<g fill="none" stroke-width="6.2" shape-rendering="crispEdges">
<path d="M240.9,1062 H384" stroke="#FFA500"/>
<path d="M240.9,1134 H384" stroke="#FF0000" stroke-dasharray="64,20"/>
<path d="M240.9,1207 H384" stroke="#008000" stroke-dasharray="105,21"/>
<path d="M833.1,1062 H976" stroke="#0000FF" stroke-dasharray="9,20.2"/>
<path d="M833.1,1134 H968.1" stroke="#800080" stroke-dasharray="43,20,9,20"/>
<path d="M833.1,1207 H977" stroke="#800080"/>
</g>
</svg></body></html>
